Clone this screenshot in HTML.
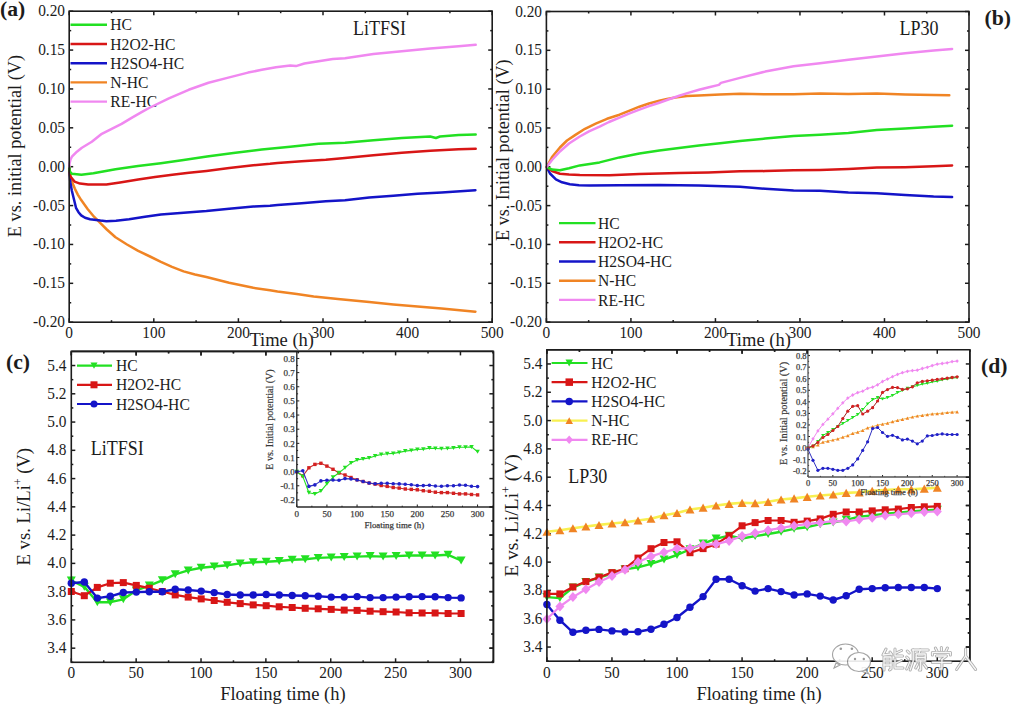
<!DOCTYPE html>
<html><head><meta charset="utf-8"><style>
html,body{margin:0;padding:0;background:#fff;}
svg{display:block;}
</style></head><body>
<svg width="1011" height="704" viewBox="0 0 1011 704" font-family="Liberation Serif">
<rect width="1011" height="704" fill="#fff"/>
<line x1="69.20" y1="322.20" x2="69.20" y2="318.20" stroke="#1c1c1c" stroke-width="1.5" />
<line x1="69.20" y1="11.20" x2="69.20" y2="15.20" stroke="#1c1c1c" stroke-width="1.5" />
<line x1="153.80" y1="322.20" x2="153.80" y2="318.20" stroke="#1c1c1c" stroke-width="1.5" />
<line x1="153.80" y1="11.20" x2="153.80" y2="15.20" stroke="#1c1c1c" stroke-width="1.5" />
<line x1="238.40" y1="322.20" x2="238.40" y2="318.20" stroke="#1c1c1c" stroke-width="1.5" />
<line x1="238.40" y1="11.20" x2="238.40" y2="15.20" stroke="#1c1c1c" stroke-width="1.5" />
<line x1="323.00" y1="322.20" x2="323.00" y2="318.20" stroke="#1c1c1c" stroke-width="1.5" />
<line x1="323.00" y1="11.20" x2="323.00" y2="15.20" stroke="#1c1c1c" stroke-width="1.5" />
<line x1="407.60" y1="322.20" x2="407.60" y2="318.20" stroke="#1c1c1c" stroke-width="1.5" />
<line x1="407.60" y1="11.20" x2="407.60" y2="15.20" stroke="#1c1c1c" stroke-width="1.5" />
<line x1="492.20" y1="322.20" x2="492.20" y2="318.20" stroke="#1c1c1c" stroke-width="1.5" />
<line x1="492.20" y1="11.20" x2="492.20" y2="15.20" stroke="#1c1c1c" stroke-width="1.5" />
<line x1="111.50" y1="322.20" x2="111.50" y2="320.20" stroke="#1c1c1c" stroke-width="1.5" />
<line x1="111.50" y1="11.20" x2="111.50" y2="13.20" stroke="#1c1c1c" stroke-width="1.5" />
<line x1="196.10" y1="322.20" x2="196.10" y2="320.20" stroke="#1c1c1c" stroke-width="1.5" />
<line x1="196.10" y1="11.20" x2="196.10" y2="13.20" stroke="#1c1c1c" stroke-width="1.5" />
<line x1="280.70" y1="322.20" x2="280.70" y2="320.20" stroke="#1c1c1c" stroke-width="1.5" />
<line x1="280.70" y1="11.20" x2="280.70" y2="13.20" stroke="#1c1c1c" stroke-width="1.5" />
<line x1="365.30" y1="322.20" x2="365.30" y2="320.20" stroke="#1c1c1c" stroke-width="1.5" />
<line x1="365.30" y1="11.20" x2="365.30" y2="13.20" stroke="#1c1c1c" stroke-width="1.5" />
<line x1="449.90" y1="322.20" x2="449.90" y2="320.20" stroke="#1c1c1c" stroke-width="1.5" />
<line x1="449.90" y1="11.20" x2="449.90" y2="13.20" stroke="#1c1c1c" stroke-width="1.5" />
<line x1="69.20" y1="322.20" x2="73.20" y2="322.20" stroke="#1c1c1c" stroke-width="1.5" />
<line x1="492.20" y1="322.20" x2="488.20" y2="322.20" stroke="#1c1c1c" stroke-width="1.5" />
<line x1="69.20" y1="283.32" x2="73.20" y2="283.32" stroke="#1c1c1c" stroke-width="1.5" />
<line x1="492.20" y1="283.32" x2="488.20" y2="283.32" stroke="#1c1c1c" stroke-width="1.5" />
<line x1="69.20" y1="244.45" x2="73.20" y2="244.45" stroke="#1c1c1c" stroke-width="1.5" />
<line x1="492.20" y1="244.45" x2="488.20" y2="244.45" stroke="#1c1c1c" stroke-width="1.5" />
<line x1="69.20" y1="205.57" x2="73.20" y2="205.57" stroke="#1c1c1c" stroke-width="1.5" />
<line x1="492.20" y1="205.57" x2="488.20" y2="205.57" stroke="#1c1c1c" stroke-width="1.5" />
<line x1="69.20" y1="166.70" x2="73.20" y2="166.70" stroke="#1c1c1c" stroke-width="1.5" />
<line x1="492.20" y1="166.70" x2="488.20" y2="166.70" stroke="#1c1c1c" stroke-width="1.5" />
<line x1="69.20" y1="127.82" x2="73.20" y2="127.82" stroke="#1c1c1c" stroke-width="1.5" />
<line x1="492.20" y1="127.82" x2="488.20" y2="127.82" stroke="#1c1c1c" stroke-width="1.5" />
<line x1="69.20" y1="88.95" x2="73.20" y2="88.95" stroke="#1c1c1c" stroke-width="1.5" />
<line x1="492.20" y1="88.95" x2="488.20" y2="88.95" stroke="#1c1c1c" stroke-width="1.5" />
<line x1="69.20" y1="50.07" x2="73.20" y2="50.07" stroke="#1c1c1c" stroke-width="1.5" />
<line x1="492.20" y1="50.07" x2="488.20" y2="50.07" stroke="#1c1c1c" stroke-width="1.5" />
<line x1="69.20" y1="11.20" x2="73.20" y2="11.20" stroke="#1c1c1c" stroke-width="1.5" />
<line x1="492.20" y1="11.20" x2="488.20" y2="11.20" stroke="#1c1c1c" stroke-width="1.5" />
<line x1="69.20" y1="302.76" x2="71.20" y2="302.76" stroke="#1c1c1c" stroke-width="1.5" />
<line x1="492.20" y1="302.76" x2="490.20" y2="302.76" stroke="#1c1c1c" stroke-width="1.5" />
<line x1="69.20" y1="263.89" x2="71.20" y2="263.89" stroke="#1c1c1c" stroke-width="1.5" />
<line x1="492.20" y1="263.89" x2="490.20" y2="263.89" stroke="#1c1c1c" stroke-width="1.5" />
<line x1="69.20" y1="225.01" x2="71.20" y2="225.01" stroke="#1c1c1c" stroke-width="1.5" />
<line x1="492.20" y1="225.01" x2="490.20" y2="225.01" stroke="#1c1c1c" stroke-width="1.5" />
<line x1="69.20" y1="186.14" x2="71.20" y2="186.14" stroke="#1c1c1c" stroke-width="1.5" />
<line x1="492.20" y1="186.14" x2="490.20" y2="186.14" stroke="#1c1c1c" stroke-width="1.5" />
<line x1="69.20" y1="147.26" x2="71.20" y2="147.26" stroke="#1c1c1c" stroke-width="1.5" />
<line x1="492.20" y1="147.26" x2="490.20" y2="147.26" stroke="#1c1c1c" stroke-width="1.5" />
<line x1="69.20" y1="108.39" x2="71.20" y2="108.39" stroke="#1c1c1c" stroke-width="1.5" />
<line x1="492.20" y1="108.39" x2="490.20" y2="108.39" stroke="#1c1c1c" stroke-width="1.5" />
<line x1="69.20" y1="69.51" x2="71.20" y2="69.51" stroke="#1c1c1c" stroke-width="1.5" />
<line x1="492.20" y1="69.51" x2="490.20" y2="69.51" stroke="#1c1c1c" stroke-width="1.5" />
<line x1="69.20" y1="30.64" x2="71.20" y2="30.64" stroke="#1c1c1c" stroke-width="1.5" />
<line x1="492.20" y1="30.64" x2="490.20" y2="30.64" stroke="#1c1c1c" stroke-width="1.5" />
<text x="0.00" y="0.00" font-size="16" text-anchor="end" font-weight="normal" fill="#1c1c1c" transform="translate(65.00 16.20) scale(0.96 1)" >0.20</text>
<text x="0.00" y="0.00" font-size="16" text-anchor="end" font-weight="normal" fill="#1c1c1c" transform="translate(65.00 55.08) scale(0.96 1)" >0.15</text>
<text x="0.00" y="0.00" font-size="16" text-anchor="end" font-weight="normal" fill="#1c1c1c" transform="translate(65.00 93.95) scale(0.96 1)" >0.10</text>
<text x="0.00" y="0.00" font-size="16" text-anchor="end" font-weight="normal" fill="#1c1c1c" transform="translate(65.00 132.82) scale(0.96 1)" >0.05</text>
<text x="0.00" y="0.00" font-size="16" text-anchor="end" font-weight="normal" fill="#1c1c1c" transform="translate(65.00 171.70) scale(0.96 1)" >0.00</text>
<text x="0.00" y="0.00" font-size="16" text-anchor="end" font-weight="normal" fill="#1c1c1c" transform="translate(65.00 210.57) scale(0.96 1)" >-0.05</text>
<text x="0.00" y="0.00" font-size="16" text-anchor="end" font-weight="normal" fill="#1c1c1c" transform="translate(65.00 249.45) scale(0.96 1)" >-0.10</text>
<text x="0.00" y="0.00" font-size="16" text-anchor="end" font-weight="normal" fill="#1c1c1c" transform="translate(65.00 288.32) scale(0.96 1)" >-0.15</text>
<text x="0.00" y="0.00" font-size="16" text-anchor="end" font-weight="normal" fill="#1c1c1c" transform="translate(65.00 327.20) scale(0.96 1)" >-0.20</text>
<text x="0.00" y="0.00" font-size="16" text-anchor="middle" font-weight="normal" fill="#1c1c1c" transform="translate(69.20 338.00) scale(0.96 1)" >0</text>
<text x="0.00" y="0.00" font-size="16" text-anchor="middle" font-weight="normal" fill="#1c1c1c" transform="translate(153.80 338.00) scale(0.96 1)" >100</text>
<text x="0.00" y="0.00" font-size="16" text-anchor="middle" font-weight="normal" fill="#1c1c1c" transform="translate(238.40 338.00) scale(0.96 1)" >200</text>
<text x="0.00" y="0.00" font-size="16" text-anchor="middle" font-weight="normal" fill="#1c1c1c" transform="translate(323.00 338.00) scale(0.96 1)" >300</text>
<text x="0.00" y="0.00" font-size="16" text-anchor="middle" font-weight="normal" fill="#1c1c1c" transform="translate(407.60 338.00) scale(0.96 1)" >400</text>
<text x="0.00" y="0.00" font-size="16" text-anchor="middle" font-weight="normal" fill="#1c1c1c" transform="translate(492.20 338.00) scale(0.96 1)" >500</text>
<text x="0.00" y="0.00" font-size="18.3" text-anchor="middle" font-weight="normal" fill="#1c1c1c" transform="translate(21.20 146.00) rotate(-90)" >E vs. initial potential (V)</text>
<text x="0.00" y="0.00" font-size="19.5" text-anchor="middle" font-weight="normal" fill="#1c1c1c" transform="translate(281.70 346.10) scale(0.95 1)" >Time (h)</text>
<text x="0.00" y="15.50" font-size="21.7" text-anchor="start" font-weight="bold" fill="#1c1c1c" >(a)</text>
<text x="0.00" y="0.00" font-size="20" text-anchor="middle" font-weight="normal" fill="#1c1c1c" transform="translate(379.40 35.30) scale(0.9 1)" >LiTFSI</text>
<line x1="70.50" y1="24.80" x2="107.00" y2="24.80" stroke="#22e022" stroke-width="2.4" />
<text x="0.00" y="0.00" font-size="16.5" text-anchor="start" font-weight="normal" fill="#1c1c1c" transform="translate(110.30 30.40) scale(0.948 1)" >HC</text>
<line x1="70.50" y1="44.00" x2="107.00" y2="44.00" stroke="#d81616" stroke-width="2.4" />
<text x="0.00" y="0.00" font-size="16.5" text-anchor="start" font-weight="normal" fill="#1c1c1c" transform="translate(110.30 49.60) scale(0.948 1)" >H2O2-HC</text>
<line x1="70.50" y1="63.20" x2="107.00" y2="63.20" stroke="#1414c8" stroke-width="2.4" />
<text x="0.00" y="0.00" font-size="16.5" text-anchor="start" font-weight="normal" fill="#1c1c1c" transform="translate(110.30 68.80) scale(0.948 1)" >H2SO4-HC</text>
<line x1="70.50" y1="82.40" x2="107.00" y2="82.40" stroke="#f08424" stroke-width="2.4" />
<text x="0.00" y="0.00" font-size="16.5" text-anchor="start" font-weight="normal" fill="#1c1c1c" transform="translate(110.30 88.00) scale(0.948 1)" >N-HC</text>
<line x1="70.50" y1="101.60" x2="107.00" y2="101.60" stroke="#f088f0" stroke-width="2.4" />
<text x="0.00" y="0.00" font-size="16.5" text-anchor="start" font-weight="normal" fill="#1c1c1c" transform="translate(110.30 107.20) scale(0.948 1)" >RE-HC</text>
<polyline points="69.3,166.7 70.0,172.0 71.0,178.4 72.8,183.8 74.8,188.6 77.8,194.6 81.2,200.1 87.6,209.0 94.0,216.7 100.4,223.1 106.8,229.5 115.5,237.3 127.0,244.5 138.2,250.9 150.0,256.5 160.9,261.8 172.0,266.8 183.6,271.4 195.0,274.5 206.4,277.0 229.1,282.7 253.3,287.8 270.0,290.2 277.5,291.6 296.8,294.1 313.7,296.5 337.9,299.0 369.2,302.0 393.3,304.4 417.5,306.4 441.6,308.6 475.4,311.7" fill="none" stroke="#f08424" stroke-width="2.5" stroke-linejoin="round" stroke-linecap="round" />
<polyline points="69.3,166.7 69.8,176.0 70.3,182.2 71.8,190.5 73.5,197.5 76.0,207.8 78.5,212.2 81.2,215.4 85.0,217.8 90.1,219.3 100.4,220.6 106.4,221.2 116.0,220.8 129.1,219.3 145.0,216.8 160.9,214.5 183.6,212.8 206.4,211.1 229.2,208.8 253.3,206.6 270.0,205.8 277.5,205.0 301.6,203.3 325.8,201.3 345.0,200.2 369.2,197.6 393.3,195.7 417.5,193.7 441.6,192.4 475.4,190.2" fill="none" stroke="#1414c8" stroke-width="2.5" stroke-linejoin="round" stroke-linecap="round" />
<polyline points="69.3,166.7 70.0,175.9 74.5,181.6 80.0,183.6 88.2,184.6 106.4,184.6 120.0,182.5 138.2,179.5 155.0,177.0 172.3,174.8 189.0,172.8 206.4,170.9 229.2,168.0 253.3,165.3 270.0,163.8 277.5,162.9 301.6,161.2 325.8,159.7 345.0,158.0 373.4,155.3 401.8,152.7 430.2,150.7 458.6,149.3 475.7,148.8" fill="none" stroke="#d81616" stroke-width="2.5" stroke-linejoin="round" stroke-linecap="round" />
<polyline points="69.3,166.7 69.8,171.5 72.0,173.8 81.4,174.8 93.4,173.3 115.5,169.3 138.0,166.0 160.9,163.2 183.6,160.0 207.0,156.5 233.4,152.9 261.8,149.5 290.2,146.7 318.6,143.8 345.0,142.8 373.4,140.2 401.8,138.0 430.2,136.5 435.9,138.0 440.0,136.5 458.6,135.1 475.7,134.5" fill="none" stroke="#22e022" stroke-width="2.5" stroke-linejoin="round" stroke-linecap="round" />
<polyline points="69.3,166.7 69.5,163.6 70.5,159.5 71.9,156.7 76.9,151.7 81.9,147.7 91.8,141.8 101.8,133.8 111.7,128.8 121.6,123.9 131.6,117.9 142.0,111.9 149.1,108.0 168.9,98.4 188.7,89.8 208.5,82.7 228.3,77.6 248.0,72.6 261.8,69.8 276.0,67.2 290.2,65.4 295.9,66.1 304.4,63.5 318.6,61.3 332.8,59.0 345.0,58.2 373.4,54.1 401.8,51.3 430.2,48.5 458.6,46.2 475.7,44.8" fill="none" stroke="#f088f0" stroke-width="2.5" stroke-linejoin="round" stroke-linecap="round" />
<rect x="69.20" y="11.20" width="423.00" height="311.00" fill="none" stroke="#1c1c1c" stroke-width="1.6"/>
<line x1="546.40" y1="322.10" x2="546.40" y2="318.10" stroke="#1c1c1c" stroke-width="1.5" />
<line x1="546.40" y1="11.50" x2="546.40" y2="15.50" stroke="#1c1c1c" stroke-width="1.5" />
<line x1="630.92" y1="322.10" x2="630.92" y2="318.10" stroke="#1c1c1c" stroke-width="1.5" />
<line x1="630.92" y1="11.50" x2="630.92" y2="15.50" stroke="#1c1c1c" stroke-width="1.5" />
<line x1="715.44" y1="322.10" x2="715.44" y2="318.10" stroke="#1c1c1c" stroke-width="1.5" />
<line x1="715.44" y1="11.50" x2="715.44" y2="15.50" stroke="#1c1c1c" stroke-width="1.5" />
<line x1="799.96" y1="322.10" x2="799.96" y2="318.10" stroke="#1c1c1c" stroke-width="1.5" />
<line x1="799.96" y1="11.50" x2="799.96" y2="15.50" stroke="#1c1c1c" stroke-width="1.5" />
<line x1="884.48" y1="322.10" x2="884.48" y2="318.10" stroke="#1c1c1c" stroke-width="1.5" />
<line x1="884.48" y1="11.50" x2="884.48" y2="15.50" stroke="#1c1c1c" stroke-width="1.5" />
<line x1="969.00" y1="322.10" x2="969.00" y2="318.10" stroke="#1c1c1c" stroke-width="1.5" />
<line x1="969.00" y1="11.50" x2="969.00" y2="15.50" stroke="#1c1c1c" stroke-width="1.5" />
<line x1="588.66" y1="322.10" x2="588.66" y2="320.10" stroke="#1c1c1c" stroke-width="1.5" />
<line x1="588.66" y1="11.50" x2="588.66" y2="13.50" stroke="#1c1c1c" stroke-width="1.5" />
<line x1="673.18" y1="322.10" x2="673.18" y2="320.10" stroke="#1c1c1c" stroke-width="1.5" />
<line x1="673.18" y1="11.50" x2="673.18" y2="13.50" stroke="#1c1c1c" stroke-width="1.5" />
<line x1="757.70" y1="322.10" x2="757.70" y2="320.10" stroke="#1c1c1c" stroke-width="1.5" />
<line x1="757.70" y1="11.50" x2="757.70" y2="13.50" stroke="#1c1c1c" stroke-width="1.5" />
<line x1="842.22" y1="322.10" x2="842.22" y2="320.10" stroke="#1c1c1c" stroke-width="1.5" />
<line x1="842.22" y1="11.50" x2="842.22" y2="13.50" stroke="#1c1c1c" stroke-width="1.5" />
<line x1="926.74" y1="322.10" x2="926.74" y2="320.10" stroke="#1c1c1c" stroke-width="1.5" />
<line x1="926.74" y1="11.50" x2="926.74" y2="13.50" stroke="#1c1c1c" stroke-width="1.5" />
<line x1="546.40" y1="322.10" x2="550.40" y2="322.10" stroke="#1c1c1c" stroke-width="1.5" />
<line x1="969.00" y1="322.10" x2="965.00" y2="322.10" stroke="#1c1c1c" stroke-width="1.5" />
<line x1="546.40" y1="283.28" x2="550.40" y2="283.28" stroke="#1c1c1c" stroke-width="1.5" />
<line x1="969.00" y1="283.28" x2="965.00" y2="283.28" stroke="#1c1c1c" stroke-width="1.5" />
<line x1="546.40" y1="244.45" x2="550.40" y2="244.45" stroke="#1c1c1c" stroke-width="1.5" />
<line x1="969.00" y1="244.45" x2="965.00" y2="244.45" stroke="#1c1c1c" stroke-width="1.5" />
<line x1="546.40" y1="205.62" x2="550.40" y2="205.62" stroke="#1c1c1c" stroke-width="1.5" />
<line x1="969.00" y1="205.62" x2="965.00" y2="205.62" stroke="#1c1c1c" stroke-width="1.5" />
<line x1="546.40" y1="166.80" x2="550.40" y2="166.80" stroke="#1c1c1c" stroke-width="1.5" />
<line x1="969.00" y1="166.80" x2="965.00" y2="166.80" stroke="#1c1c1c" stroke-width="1.5" />
<line x1="546.40" y1="127.98" x2="550.40" y2="127.98" stroke="#1c1c1c" stroke-width="1.5" />
<line x1="969.00" y1="127.98" x2="965.00" y2="127.98" stroke="#1c1c1c" stroke-width="1.5" />
<line x1="546.40" y1="89.15" x2="550.40" y2="89.15" stroke="#1c1c1c" stroke-width="1.5" />
<line x1="969.00" y1="89.15" x2="965.00" y2="89.15" stroke="#1c1c1c" stroke-width="1.5" />
<line x1="546.40" y1="50.32" x2="550.40" y2="50.32" stroke="#1c1c1c" stroke-width="1.5" />
<line x1="969.00" y1="50.32" x2="965.00" y2="50.32" stroke="#1c1c1c" stroke-width="1.5" />
<line x1="546.40" y1="11.50" x2="550.40" y2="11.50" stroke="#1c1c1c" stroke-width="1.5" />
<line x1="969.00" y1="11.50" x2="965.00" y2="11.50" stroke="#1c1c1c" stroke-width="1.5" />
<line x1="546.40" y1="302.69" x2="548.40" y2="302.69" stroke="#1c1c1c" stroke-width="1.5" />
<line x1="969.00" y1="302.69" x2="967.00" y2="302.69" stroke="#1c1c1c" stroke-width="1.5" />
<line x1="546.40" y1="263.86" x2="548.40" y2="263.86" stroke="#1c1c1c" stroke-width="1.5" />
<line x1="969.00" y1="263.86" x2="967.00" y2="263.86" stroke="#1c1c1c" stroke-width="1.5" />
<line x1="546.40" y1="225.04" x2="548.40" y2="225.04" stroke="#1c1c1c" stroke-width="1.5" />
<line x1="969.00" y1="225.04" x2="967.00" y2="225.04" stroke="#1c1c1c" stroke-width="1.5" />
<line x1="546.40" y1="186.21" x2="548.40" y2="186.21" stroke="#1c1c1c" stroke-width="1.5" />
<line x1="969.00" y1="186.21" x2="967.00" y2="186.21" stroke="#1c1c1c" stroke-width="1.5" />
<line x1="546.40" y1="147.39" x2="548.40" y2="147.39" stroke="#1c1c1c" stroke-width="1.5" />
<line x1="969.00" y1="147.39" x2="967.00" y2="147.39" stroke="#1c1c1c" stroke-width="1.5" />
<line x1="546.40" y1="108.56" x2="548.40" y2="108.56" stroke="#1c1c1c" stroke-width="1.5" />
<line x1="969.00" y1="108.56" x2="967.00" y2="108.56" stroke="#1c1c1c" stroke-width="1.5" />
<line x1="546.40" y1="69.74" x2="548.40" y2="69.74" stroke="#1c1c1c" stroke-width="1.5" />
<line x1="969.00" y1="69.74" x2="967.00" y2="69.74" stroke="#1c1c1c" stroke-width="1.5" />
<line x1="546.40" y1="30.91" x2="548.40" y2="30.91" stroke="#1c1c1c" stroke-width="1.5" />
<line x1="969.00" y1="30.91" x2="967.00" y2="30.91" stroke="#1c1c1c" stroke-width="1.5" />
<text x="0.00" y="0.00" font-size="16" text-anchor="end" font-weight="normal" fill="#1c1c1c" transform="translate(542.00 16.50) scale(0.96 1)" >0.20</text>
<text x="0.00" y="0.00" font-size="16" text-anchor="end" font-weight="normal" fill="#1c1c1c" transform="translate(542.00 55.33) scale(0.96 1)" >0.15</text>
<text x="0.00" y="0.00" font-size="16" text-anchor="end" font-weight="normal" fill="#1c1c1c" transform="translate(542.00 94.15) scale(0.96 1)" >0.10</text>
<text x="0.00" y="0.00" font-size="16" text-anchor="end" font-weight="normal" fill="#1c1c1c" transform="translate(542.00 132.98) scale(0.96 1)" >0.05</text>
<text x="0.00" y="0.00" font-size="16" text-anchor="end" font-weight="normal" fill="#1c1c1c" transform="translate(542.00 171.80) scale(0.96 1)" >0.00</text>
<text x="0.00" y="0.00" font-size="16" text-anchor="end" font-weight="normal" fill="#1c1c1c" transform="translate(542.00 210.62) scale(0.96 1)" >-0.05</text>
<text x="0.00" y="0.00" font-size="16" text-anchor="end" font-weight="normal" fill="#1c1c1c" transform="translate(542.00 249.45) scale(0.96 1)" >-0.10</text>
<text x="0.00" y="0.00" font-size="16" text-anchor="end" font-weight="normal" fill="#1c1c1c" transform="translate(542.00 288.28) scale(0.96 1)" >-0.15</text>
<text x="0.00" y="0.00" font-size="16" text-anchor="end" font-weight="normal" fill="#1c1c1c" transform="translate(542.00 327.10) scale(0.96 1)" >-0.20</text>
<text x="0.00" y="0.00" font-size="16" text-anchor="middle" font-weight="normal" fill="#1c1c1c" transform="translate(546.40 338.00) scale(0.96 1)" >0</text>
<text x="0.00" y="0.00" font-size="16" text-anchor="middle" font-weight="normal" fill="#1c1c1c" transform="translate(630.92 338.00) scale(0.96 1)" >100</text>
<text x="0.00" y="0.00" font-size="16" text-anchor="middle" font-weight="normal" fill="#1c1c1c" transform="translate(715.44 338.00) scale(0.96 1)" >200</text>
<text x="0.00" y="0.00" font-size="16" text-anchor="middle" font-weight="normal" fill="#1c1c1c" transform="translate(799.96 338.00) scale(0.96 1)" >300</text>
<text x="0.00" y="0.00" font-size="16" text-anchor="middle" font-weight="normal" fill="#1c1c1c" transform="translate(884.48 338.00) scale(0.96 1)" >400</text>
<text x="0.00" y="0.00" font-size="16" text-anchor="middle" font-weight="normal" fill="#1c1c1c" transform="translate(969.00 338.00) scale(0.96 1)" >500</text>
<text x="0.00" y="0.00" font-size="18.1" text-anchor="middle" font-weight="normal" fill="#1c1c1c" transform="translate(508.50 150.20) rotate(-90)" >E vs. Initial potential (V)</text>
<text x="0.00" y="0.00" font-size="19.5" text-anchor="middle" font-weight="normal" fill="#1c1c1c" transform="translate(758.50 346.10) scale(0.95 1)" >Time (h)</text>
<text x="984.50" y="25.30" font-size="21.7" text-anchor="start" font-weight="bold" fill="#1c1c1c" >(b)</text>
<text x="0.00" y="0.00" font-size="20" text-anchor="middle" font-weight="normal" fill="#1c1c1c" transform="translate(918.90 34.80) scale(0.9 1)" >LP30</text>
<polyline points="546.6,167.0 550.0,173.5 555.9,179.3 562.0,182.3 569.8,184.3 579.0,185.3 589.7,185.6 619.5,185.3 659.3,184.9 699.0,185.6 740.0,186.8 765.2,188.8 793.6,190.5 820.0,190.8 848.4,192.5 876.8,193.3 905.2,195.1 933.6,196.6 952.1,197.0" fill="none" stroke="#1414c8" stroke-width="2.5" stroke-linejoin="round" stroke-linecap="round" />
<polyline points="546.6,167.0 552.0,171.0 559.9,173.7 569.0,174.5 579.8,174.9 609.6,175.3 639.4,173.9 679.2,172.9 708.4,172.4 740.0,171.3 765.2,171.1 793.6,170.3 820.0,170.0 848.4,169.1 876.8,167.6 905.2,167.2 933.6,166.3 952.1,165.5" fill="none" stroke="#d81616" stroke-width="2.5" stroke-linejoin="round" stroke-linecap="round" />
<polyline points="546.6,167.0 552.0,169.6 559.9,170.3 569.0,168.2 579.8,165.4 599.6,162.4 619.5,157.4 639.4,153.4 659.3,150.5 679.0,148.0 699.0,145.5 720.0,143.2 740.0,141.1 765.2,138.6 793.6,135.9 820.0,134.8 848.4,133.1 876.8,130.0 905.2,128.5 933.6,126.8 952.1,125.7" fill="none" stroke="#22e022" stroke-width="2.5" stroke-linejoin="round" stroke-linecap="round" />
<polyline points="546.6,167.0 552.0,157.0 559.9,147.5 567.0,140.5 575.8,134.6 585.0,128.8 595.7,123.6 607.0,118.8 619.5,114.7 629.0,110.8 639.4,106.7 649.0,103.5 659.3,100.8 667.0,98.9 675.2,97.4 687.0,96.1 699.0,95.4 720.0,94.5 740.0,93.8 765.2,94.2 793.6,94.2 820.0,93.5 848.4,93.9 876.8,93.5 905.2,94.4 933.6,95.0 949.3,95.3" fill="none" stroke="#f08424" stroke-width="2.5" stroke-linejoin="round" stroke-linecap="round" />
<polyline points="546.6,167.0 552.0,160.0 559.9,151.5 569.0,143.5 579.8,136.5 589.0,131.3 599.6,126.6 609.0,122.0 619.5,117.7 629.0,113.6 639.4,109.7 649.0,106.2 659.3,102.7 669.0,99.2 679.2,95.8 689.0,92.6 699.0,89.8 709.0,87.2 718.9,84.9 720.9,82.9 740.0,77.9 765.2,71.6 793.6,66.3 820.0,63.3 848.4,59.8 876.8,56.4 905.2,53.2 933.6,50.4 952.1,49.0" fill="none" stroke="#f088f0" stroke-width="2.5" stroke-linejoin="round" stroke-linecap="round" />
<line x1="559.00" y1="223.10" x2="595.50" y2="223.10" stroke="#22e022" stroke-width="2.4" />
<text x="0.00" y="0.00" font-size="16.5" text-anchor="start" font-weight="normal" fill="#1c1c1c" transform="translate(598.00 228.70) scale(0.948 1)" >HC</text>
<line x1="559.00" y1="242.30" x2="595.50" y2="242.30" stroke="#d81616" stroke-width="2.4" />
<text x="0.00" y="0.00" font-size="16.5" text-anchor="start" font-weight="normal" fill="#1c1c1c" transform="translate(598.00 247.90) scale(0.948 1)" >H2O2-HC</text>
<line x1="559.00" y1="261.50" x2="595.50" y2="261.50" stroke="#1414c8" stroke-width="2.4" />
<text x="0.00" y="0.00" font-size="16.5" text-anchor="start" font-weight="normal" fill="#1c1c1c" transform="translate(598.00 267.10) scale(0.948 1)" >H2SO4-HC</text>
<line x1="559.00" y1="280.70" x2="595.50" y2="280.70" stroke="#f08424" stroke-width="2.4" />
<text x="0.00" y="0.00" font-size="16.5" text-anchor="start" font-weight="normal" fill="#1c1c1c" transform="translate(598.00 286.30) scale(0.948 1)" >N-HC</text>
<line x1="559.00" y1="299.90" x2="595.50" y2="299.90" stroke="#f088f0" stroke-width="2.4" />
<text x="0.00" y="0.00" font-size="16.5" text-anchor="start" font-weight="normal" fill="#1c1c1c" transform="translate(598.00 305.50) scale(0.948 1)" >RE-HC</text>
<rect x="546.40" y="11.50" width="422.60" height="310.60" fill="none" stroke="#1c1c1c" stroke-width="1.6"/>
<line x1="71.30" y1="662.30" x2="71.30" y2="658.30" stroke="#1c1c1c" stroke-width="1.5" />
<line x1="71.30" y1="351.40" x2="71.30" y2="355.40" stroke="#1c1c1c" stroke-width="1.5" />
<line x1="136.16" y1="662.30" x2="136.16" y2="658.30" stroke="#1c1c1c" stroke-width="1.5" />
<line x1="136.16" y1="351.40" x2="136.16" y2="355.40" stroke="#1c1c1c" stroke-width="1.5" />
<line x1="201.02" y1="662.30" x2="201.02" y2="658.30" stroke="#1c1c1c" stroke-width="1.5" />
<line x1="201.02" y1="351.40" x2="201.02" y2="355.40" stroke="#1c1c1c" stroke-width="1.5" />
<line x1="265.88" y1="662.30" x2="265.88" y2="658.30" stroke="#1c1c1c" stroke-width="1.5" />
<line x1="265.88" y1="351.40" x2="265.88" y2="355.40" stroke="#1c1c1c" stroke-width="1.5" />
<line x1="330.73" y1="662.30" x2="330.73" y2="658.30" stroke="#1c1c1c" stroke-width="1.5" />
<line x1="330.73" y1="351.40" x2="330.73" y2="355.40" stroke="#1c1c1c" stroke-width="1.5" />
<line x1="395.59" y1="662.30" x2="395.59" y2="658.30" stroke="#1c1c1c" stroke-width="1.5" />
<line x1="395.59" y1="351.40" x2="395.59" y2="355.40" stroke="#1c1c1c" stroke-width="1.5" />
<line x1="460.45" y1="662.30" x2="460.45" y2="658.30" stroke="#1c1c1c" stroke-width="1.5" />
<line x1="460.45" y1="351.40" x2="460.45" y2="355.40" stroke="#1c1c1c" stroke-width="1.5" />
<line x1="103.73" y1="662.30" x2="103.73" y2="660.30" stroke="#1c1c1c" stroke-width="1.5" />
<line x1="103.73" y1="351.40" x2="103.73" y2="353.40" stroke="#1c1c1c" stroke-width="1.5" />
<line x1="168.59" y1="662.30" x2="168.59" y2="660.30" stroke="#1c1c1c" stroke-width="1.5" />
<line x1="168.59" y1="351.40" x2="168.59" y2="353.40" stroke="#1c1c1c" stroke-width="1.5" />
<line x1="233.45" y1="662.30" x2="233.45" y2="660.30" stroke="#1c1c1c" stroke-width="1.5" />
<line x1="233.45" y1="351.40" x2="233.45" y2="353.40" stroke="#1c1c1c" stroke-width="1.5" />
<line x1="298.31" y1="662.30" x2="298.31" y2="660.30" stroke="#1c1c1c" stroke-width="1.5" />
<line x1="298.31" y1="351.40" x2="298.31" y2="353.40" stroke="#1c1c1c" stroke-width="1.5" />
<line x1="363.16" y1="662.30" x2="363.16" y2="660.30" stroke="#1c1c1c" stroke-width="1.5" />
<line x1="363.16" y1="351.40" x2="363.16" y2="353.40" stroke="#1c1c1c" stroke-width="1.5" />
<line x1="428.02" y1="662.30" x2="428.02" y2="660.30" stroke="#1c1c1c" stroke-width="1.5" />
<line x1="428.02" y1="351.40" x2="428.02" y2="353.40" stroke="#1c1c1c" stroke-width="1.5" />
<line x1="492.88" y1="662.30" x2="492.88" y2="660.30" stroke="#1c1c1c" stroke-width="1.5" />
<line x1="492.88" y1="351.40" x2="492.88" y2="353.40" stroke="#1c1c1c" stroke-width="1.5" />
<line x1="71.30" y1="648.17" x2="75.30" y2="648.17" stroke="#1c1c1c" stroke-width="1.5" />
<line x1="493.40" y1="648.17" x2="489.40" y2="648.17" stroke="#1c1c1c" stroke-width="1.5" />
<line x1="71.30" y1="619.90" x2="75.30" y2="619.90" stroke="#1c1c1c" stroke-width="1.5" />
<line x1="493.40" y1="619.90" x2="489.40" y2="619.90" stroke="#1c1c1c" stroke-width="1.5" />
<line x1="71.30" y1="591.64" x2="75.30" y2="591.64" stroke="#1c1c1c" stroke-width="1.5" />
<line x1="493.40" y1="591.64" x2="489.40" y2="591.64" stroke="#1c1c1c" stroke-width="1.5" />
<line x1="71.30" y1="563.38" x2="75.30" y2="563.38" stroke="#1c1c1c" stroke-width="1.5" />
<line x1="493.40" y1="563.38" x2="489.40" y2="563.38" stroke="#1c1c1c" stroke-width="1.5" />
<line x1="71.30" y1="535.11" x2="75.30" y2="535.11" stroke="#1c1c1c" stroke-width="1.5" />
<line x1="493.40" y1="535.11" x2="489.40" y2="535.11" stroke="#1c1c1c" stroke-width="1.5" />
<line x1="71.30" y1="506.85" x2="75.30" y2="506.85" stroke="#1c1c1c" stroke-width="1.5" />
<line x1="493.40" y1="506.85" x2="489.40" y2="506.85" stroke="#1c1c1c" stroke-width="1.5" />
<line x1="71.30" y1="478.59" x2="75.30" y2="478.59" stroke="#1c1c1c" stroke-width="1.5" />
<line x1="493.40" y1="478.59" x2="489.40" y2="478.59" stroke="#1c1c1c" stroke-width="1.5" />
<line x1="71.30" y1="450.32" x2="75.30" y2="450.32" stroke="#1c1c1c" stroke-width="1.5" />
<line x1="493.40" y1="450.32" x2="489.40" y2="450.32" stroke="#1c1c1c" stroke-width="1.5" />
<line x1="71.30" y1="422.06" x2="75.30" y2="422.06" stroke="#1c1c1c" stroke-width="1.5" />
<line x1="493.40" y1="422.06" x2="489.40" y2="422.06" stroke="#1c1c1c" stroke-width="1.5" />
<line x1="71.30" y1="393.80" x2="75.30" y2="393.80" stroke="#1c1c1c" stroke-width="1.5" />
<line x1="493.40" y1="393.80" x2="489.40" y2="393.80" stroke="#1c1c1c" stroke-width="1.5" />
<line x1="71.30" y1="365.53" x2="75.30" y2="365.53" stroke="#1c1c1c" stroke-width="1.5" />
<line x1="493.40" y1="365.53" x2="489.40" y2="365.53" stroke="#1c1c1c" stroke-width="1.5" />
<line x1="71.30" y1="662.30" x2="73.30" y2="662.30" stroke="#1c1c1c" stroke-width="1.5" />
<line x1="493.40" y1="662.30" x2="491.40" y2="662.30" stroke="#1c1c1c" stroke-width="1.5" />
<line x1="71.30" y1="634.04" x2="73.30" y2="634.04" stroke="#1c1c1c" stroke-width="1.5" />
<line x1="493.40" y1="634.04" x2="491.40" y2="634.04" stroke="#1c1c1c" stroke-width="1.5" />
<line x1="71.30" y1="605.77" x2="73.30" y2="605.77" stroke="#1c1c1c" stroke-width="1.5" />
<line x1="493.40" y1="605.77" x2="491.40" y2="605.77" stroke="#1c1c1c" stroke-width="1.5" />
<line x1="71.30" y1="577.51" x2="73.30" y2="577.51" stroke="#1c1c1c" stroke-width="1.5" />
<line x1="493.40" y1="577.51" x2="491.40" y2="577.51" stroke="#1c1c1c" stroke-width="1.5" />
<line x1="71.30" y1="549.25" x2="73.30" y2="549.25" stroke="#1c1c1c" stroke-width="1.5" />
<line x1="493.40" y1="549.25" x2="491.40" y2="549.25" stroke="#1c1c1c" stroke-width="1.5" />
<line x1="71.30" y1="520.98" x2="73.30" y2="520.98" stroke="#1c1c1c" stroke-width="1.5" />
<line x1="493.40" y1="520.98" x2="491.40" y2="520.98" stroke="#1c1c1c" stroke-width="1.5" />
<line x1="71.30" y1="492.72" x2="73.30" y2="492.72" stroke="#1c1c1c" stroke-width="1.5" />
<line x1="493.40" y1="492.72" x2="491.40" y2="492.72" stroke="#1c1c1c" stroke-width="1.5" />
<line x1="71.30" y1="464.45" x2="73.30" y2="464.45" stroke="#1c1c1c" stroke-width="1.5" />
<line x1="493.40" y1="464.45" x2="491.40" y2="464.45" stroke="#1c1c1c" stroke-width="1.5" />
<line x1="71.30" y1="436.19" x2="73.30" y2="436.19" stroke="#1c1c1c" stroke-width="1.5" />
<line x1="493.40" y1="436.19" x2="491.40" y2="436.19" stroke="#1c1c1c" stroke-width="1.5" />
<line x1="71.30" y1="407.93" x2="73.30" y2="407.93" stroke="#1c1c1c" stroke-width="1.5" />
<line x1="493.40" y1="407.93" x2="491.40" y2="407.93" stroke="#1c1c1c" stroke-width="1.5" />
<line x1="71.30" y1="379.66" x2="73.30" y2="379.66" stroke="#1c1c1c" stroke-width="1.5" />
<line x1="493.40" y1="379.66" x2="491.40" y2="379.66" stroke="#1c1c1c" stroke-width="1.5" />
<text x="0.00" y="0.00" font-size="16" text-anchor="end" font-weight="normal" fill="#1c1c1c" transform="translate(66.50 653.17) scale(0.96 1)" >3.4</text>
<text x="0.00" y="0.00" font-size="16" text-anchor="end" font-weight="normal" fill="#1c1c1c" transform="translate(66.50 624.90) scale(0.96 1)" >3.6</text>
<text x="0.00" y="0.00" font-size="16" text-anchor="end" font-weight="normal" fill="#1c1c1c" transform="translate(66.50 596.64) scale(0.96 1)" >3.8</text>
<text x="0.00" y="0.00" font-size="16" text-anchor="end" font-weight="normal" fill="#1c1c1c" transform="translate(66.50 568.38) scale(0.96 1)" >4.0</text>
<text x="0.00" y="0.00" font-size="16" text-anchor="end" font-weight="normal" fill="#1c1c1c" transform="translate(66.50 540.11) scale(0.96 1)" >4.2</text>
<text x="0.00" y="0.00" font-size="16" text-anchor="end" font-weight="normal" fill="#1c1c1c" transform="translate(66.50 511.85) scale(0.96 1)" >4.4</text>
<text x="0.00" y="0.00" font-size="16" text-anchor="end" font-weight="normal" fill="#1c1c1c" transform="translate(66.50 483.59) scale(0.96 1)" >4.6</text>
<text x="0.00" y="0.00" font-size="16" text-anchor="end" font-weight="normal" fill="#1c1c1c" transform="translate(66.50 455.32) scale(0.96 1)" >4.8</text>
<text x="0.00" y="0.00" font-size="16" text-anchor="end" font-weight="normal" fill="#1c1c1c" transform="translate(66.50 427.06) scale(0.96 1)" >5.0</text>
<text x="0.00" y="0.00" font-size="16" text-anchor="end" font-weight="normal" fill="#1c1c1c" transform="translate(66.50 398.80) scale(0.96 1)" >5.2</text>
<text x="0.00" y="0.00" font-size="16" text-anchor="end" font-weight="normal" fill="#1c1c1c" transform="translate(66.50 370.53) scale(0.96 1)" >5.4</text>
<text x="0.00" y="0.00" font-size="16" text-anchor="middle" font-weight="normal" fill="#1c1c1c" transform="translate(71.30 678.00) scale(0.96 1)" >0</text>
<text x="0.00" y="0.00" font-size="16" text-anchor="middle" font-weight="normal" fill="#1c1c1c" transform="translate(136.16 678.00) scale(0.96 1)" >50</text>
<text x="0.00" y="0.00" font-size="16" text-anchor="middle" font-weight="normal" fill="#1c1c1c" transform="translate(201.02 678.00) scale(0.96 1)" >100</text>
<text x="0.00" y="0.00" font-size="16" text-anchor="middle" font-weight="normal" fill="#1c1c1c" transform="translate(265.88 678.00) scale(0.96 1)" >150</text>
<text x="0.00" y="0.00" font-size="16" text-anchor="middle" font-weight="normal" fill="#1c1c1c" transform="translate(330.73 678.00) scale(0.96 1)" >200</text>
<text x="0.00" y="0.00" font-size="16" text-anchor="middle" font-weight="normal" fill="#1c1c1c" transform="translate(395.59 678.00) scale(0.96 1)" >250</text>
<text x="0.00" y="0.00" font-size="16" text-anchor="middle" font-weight="normal" fill="#1c1c1c" transform="translate(460.45 678.00) scale(0.96 1)" >300</text>
<text x="282.88" y="699.60" font-size="18.5" text-anchor="middle" font-weight="normal" fill="#1c1c1c" >Floating time (h)</text>
<text x="0.00" y="0.00" font-size="18.7" text-anchor="middle" font-weight="normal" fill="#1c1c1c" transform="translate(29.80 506.70) rotate(-90)" >E vs. Li/Li<tspan dy="-7.5" font-size="11.5">+</tspan><tspan dy="7.5"> (V)</tspan></text>
<text x="6.00" y="368.60" font-size="21.7" text-anchor="start" font-weight="bold" fill="#1c1c1c" >(c)</text>
<text x="0.00" y="0.00" font-size="20" text-anchor="middle" font-weight="normal" fill="#1c1c1c" transform="translate(117.20 454.90) scale(0.9 1)" >LiTFSI</text>
<polyline points="71.3,580.5 84.3,586.8 97.3,602.2 110.3,602.2 123.3,599.3 136.3,590.4 149.3,585.6 162.3,580.3 175.2,574.3 188.2,570.4 201.2,567.8 214.2,566.5 227.2,565.2 240.2,563.4 253.2,562.3 266.2,561.8 279.2,561.0 292.2,559.7 305.2,559.2 318.2,557.9 331.2,557.4 344.2,557.1 357.1,556.6 370.1,556.1 383.1,556.6 396.1,556.1 409.1,555.5 422.1,555.5 435.1,555.5 448.1,554.8 461.1,560.5" fill="none" stroke="#22e022" stroke-width="2.4" stroke-linejoin="round" stroke-linecap="round" />
<path d="M66.8,576.5L75.8,576.5L71.3,584.5Z" fill="#22e022"/>
<path d="M79.8,582.8L88.8,582.8L84.3,590.8Z" fill="#22e022"/>
<path d="M92.8,598.2L101.8,598.2L97.3,606.2Z" fill="#22e022"/>
<path d="M105.8,598.2L114.8,598.2L110.3,606.2Z" fill="#22e022"/>
<path d="M118.8,595.2L127.8,595.2L123.3,603.3Z" fill="#22e022"/>
<path d="M131.8,586.4L140.8,586.4L136.3,594.4Z" fill="#22e022"/>
<path d="M144.8,581.6L153.8,581.6L149.3,589.6Z" fill="#22e022"/>
<path d="M157.8,576.2L166.8,576.2L162.3,584.3Z" fill="#22e022"/>
<path d="M170.7,570.2L179.7,570.2L175.2,578.3Z" fill="#22e022"/>
<path d="M183.7,566.4L192.7,566.4L188.2,574.4Z" fill="#22e022"/>
<path d="M196.7,563.8L205.7,563.8L201.2,571.8Z" fill="#22e022"/>
<path d="M209.7,562.5L218.7,562.5L214.2,570.5Z" fill="#22e022"/>
<path d="M222.7,561.2L231.7,561.2L227.2,569.2Z" fill="#22e022"/>
<path d="M235.7,559.4L244.7,559.4L240.2,567.4Z" fill="#22e022"/>
<path d="M248.7,558.2L257.7,558.2L253.2,566.3Z" fill="#22e022"/>
<path d="M261.7,557.8L270.7,557.8L266.2,565.8Z" fill="#22e022"/>
<path d="M274.7,557.0L283.7,557.0L279.2,565.0Z" fill="#22e022"/>
<path d="M287.7,555.7L296.7,555.7L292.2,563.8Z" fill="#22e022"/>
<path d="M300.7,555.2L309.7,555.2L305.2,563.2Z" fill="#22e022"/>
<path d="M313.7,553.9L322.7,553.9L318.2,561.9Z" fill="#22e022"/>
<path d="M326.7,553.4L335.7,553.4L331.2,561.4Z" fill="#22e022"/>
<path d="M339.7,553.1L348.7,553.1L344.2,561.1Z" fill="#22e022"/>
<path d="M352.6,552.6L361.6,552.6L357.1,560.6Z" fill="#22e022"/>
<path d="M365.6,552.1L374.6,552.1L370.1,560.1Z" fill="#22e022"/>
<path d="M378.6,552.6L387.6,552.6L383.1,560.6Z" fill="#22e022"/>
<path d="M391.6,552.1L400.6,552.1L396.1,560.1Z" fill="#22e022"/>
<path d="M404.6,551.5L413.6,551.5L409.1,559.5Z" fill="#22e022"/>
<path d="M417.6,551.5L426.6,551.5L422.1,559.5Z" fill="#22e022"/>
<path d="M430.6,551.5L439.6,551.5L435.1,559.5Z" fill="#22e022"/>
<path d="M443.6,550.8L452.6,550.8L448.1,558.8Z" fill="#22e022"/>
<path d="M456.6,556.5L465.6,556.5L461.1,564.5Z" fill="#22e022"/>
<polyline points="71.3,591.5 84.3,595.7 97.3,587.4 110.3,583.2 123.3,582.6 136.3,585.4 149.3,588.2 162.3,591.5 175.2,594.9 188.2,597.1 201.2,598.9 214.2,600.5 227.2,602.3 240.2,603.6 253.2,604.9 266.2,605.7 279.2,606.8 292.2,607.5 305.2,608.3 318.2,608.8 331.2,609.4 344.2,610.1 357.1,610.4 370.1,611.2 383.1,611.7 396.1,612.0 409.1,612.8 422.1,613.0 435.1,613.0 448.1,613.5 461.1,613.5" fill="none" stroke="#d81616" stroke-width="2.2" stroke-linejoin="round" stroke-linecap="round" />
<rect x="67.8" y="588.0" width="7.00" height="7.00" fill="#d81616"/>
<rect x="80.8" y="592.2" width="7.00" height="7.00" fill="#d81616"/>
<rect x="93.8" y="583.9" width="7.00" height="7.00" fill="#d81616"/>
<rect x="106.8" y="579.7" width="7.00" height="7.00" fill="#d81616"/>
<rect x="119.8" y="579.1" width="7.00" height="7.00" fill="#d81616"/>
<rect x="132.8" y="581.9" width="7.00" height="7.00" fill="#d81616"/>
<rect x="145.8" y="584.7" width="7.00" height="7.00" fill="#d81616"/>
<rect x="158.8" y="588.0" width="7.00" height="7.00" fill="#d81616"/>
<rect x="171.7" y="591.4" width="7.00" height="7.00" fill="#d81616"/>
<rect x="184.7" y="593.6" width="7.00" height="7.00" fill="#d81616"/>
<rect x="197.7" y="595.4" width="7.00" height="7.00" fill="#d81616"/>
<rect x="210.7" y="597.0" width="7.00" height="7.00" fill="#d81616"/>
<rect x="223.7" y="598.8" width="7.00" height="7.00" fill="#d81616"/>
<rect x="236.7" y="600.1" width="7.00" height="7.00" fill="#d81616"/>
<rect x="249.7" y="601.4" width="7.00" height="7.00" fill="#d81616"/>
<rect x="262.7" y="602.2" width="7.00" height="7.00" fill="#d81616"/>
<rect x="275.7" y="603.3" width="7.00" height="7.00" fill="#d81616"/>
<rect x="288.7" y="604.0" width="7.00" height="7.00" fill="#d81616"/>
<rect x="301.7" y="604.8" width="7.00" height="7.00" fill="#d81616"/>
<rect x="314.7" y="605.3" width="7.00" height="7.00" fill="#d81616"/>
<rect x="327.7" y="605.9" width="7.00" height="7.00" fill="#d81616"/>
<rect x="340.7" y="606.6" width="7.00" height="7.00" fill="#d81616"/>
<rect x="353.6" y="606.9" width="7.00" height="7.00" fill="#d81616"/>
<rect x="366.6" y="607.7" width="7.00" height="7.00" fill="#d81616"/>
<rect x="379.6" y="608.2" width="7.00" height="7.00" fill="#d81616"/>
<rect x="392.6" y="608.5" width="7.00" height="7.00" fill="#d81616"/>
<rect x="405.6" y="609.3" width="7.00" height="7.00" fill="#d81616"/>
<rect x="418.6" y="609.5" width="7.00" height="7.00" fill="#d81616"/>
<rect x="431.6" y="609.5" width="7.00" height="7.00" fill="#d81616"/>
<rect x="444.6" y="610.0" width="7.00" height="7.00" fill="#d81616"/>
<rect x="457.6" y="610.0" width="7.00" height="7.00" fill="#d81616"/>
<polyline points="71.3,583.2 84.3,582.0 97.3,598.1 110.3,596.3 123.3,592.5 136.3,592.1 149.3,591.8 162.3,591.8 175.2,589.2 188.2,590.0 201.2,591.1 214.2,592.6 227.2,594.5 240.2,595.0 253.2,595.0 266.2,594.5 279.2,595.0 292.2,595.5 305.2,595.8 318.2,596.3 331.2,597.1 344.2,597.1 357.1,596.6 370.1,597.6 383.1,597.6 396.1,597.1 409.1,596.8 422.1,596.6 435.1,596.8 448.1,597.6 461.1,597.9" fill="none" stroke="#1414c8" stroke-width="2.4" stroke-linejoin="round" stroke-linecap="round" />
<circle cx="71.3" cy="583.2" r="3.70" fill="#1414c8"/>
<circle cx="84.3" cy="582.0" r="3.70" fill="#1414c8"/>
<circle cx="97.3" cy="598.1" r="3.70" fill="#1414c8"/>
<circle cx="110.3" cy="596.3" r="3.70" fill="#1414c8"/>
<circle cx="123.3" cy="592.5" r="3.70" fill="#1414c8"/>
<circle cx="136.3" cy="592.1" r="3.70" fill="#1414c8"/>
<circle cx="149.3" cy="591.8" r="3.70" fill="#1414c8"/>
<circle cx="162.3" cy="591.8" r="3.70" fill="#1414c8"/>
<circle cx="175.2" cy="589.2" r="3.70" fill="#1414c8"/>
<circle cx="188.2" cy="590.0" r="3.70" fill="#1414c8"/>
<circle cx="201.2" cy="591.1" r="3.70" fill="#1414c8"/>
<circle cx="214.2" cy="592.6" r="3.70" fill="#1414c8"/>
<circle cx="227.2" cy="594.5" r="3.70" fill="#1414c8"/>
<circle cx="240.2" cy="595.0" r="3.70" fill="#1414c8"/>
<circle cx="253.2" cy="595.0" r="3.70" fill="#1414c8"/>
<circle cx="266.2" cy="594.5" r="3.70" fill="#1414c8"/>
<circle cx="279.2" cy="595.0" r="3.70" fill="#1414c8"/>
<circle cx="292.2" cy="595.5" r="3.70" fill="#1414c8"/>
<circle cx="305.2" cy="595.8" r="3.70" fill="#1414c8"/>
<circle cx="318.2" cy="596.3" r="3.70" fill="#1414c8"/>
<circle cx="331.2" cy="597.1" r="3.70" fill="#1414c8"/>
<circle cx="344.2" cy="597.1" r="3.70" fill="#1414c8"/>
<circle cx="357.1" cy="596.6" r="3.70" fill="#1414c8"/>
<circle cx="370.1" cy="597.6" r="3.70" fill="#1414c8"/>
<circle cx="383.1" cy="597.6" r="3.70" fill="#1414c8"/>
<circle cx="396.1" cy="597.1" r="3.70" fill="#1414c8"/>
<circle cx="409.1" cy="596.8" r="3.70" fill="#1414c8"/>
<circle cx="422.1" cy="596.6" r="3.70" fill="#1414c8"/>
<circle cx="435.1" cy="596.8" r="3.70" fill="#1414c8"/>
<circle cx="448.1" cy="597.6" r="3.70" fill="#1414c8"/>
<circle cx="461.1" cy="597.9" r="3.70" fill="#1414c8"/>
<line x1="77.00" y1="365.60" x2="112.00" y2="365.60" stroke="#22e022" stroke-width="2.2" />
<path d="M90.5,362.5L97.5,362.5L94.0,368.8Z" fill="#22e022"/>
<text x="0.00" y="0.00" font-size="16.5" text-anchor="start" font-weight="normal" fill="#1c1c1c" transform="translate(116.00 371.20) scale(0.948 1)" >HC</text>
<line x1="77.00" y1="384.80" x2="112.00" y2="384.80" stroke="#d81616" stroke-width="2.2" />
<rect x="90.5" y="381.3" width="7.00" height="7.00" fill="#d81616"/>
<text x="0.00" y="0.00" font-size="16.5" text-anchor="start" font-weight="normal" fill="#1c1c1c" transform="translate(116.00 390.40) scale(0.948 1)" >H2O2-HC</text>
<line x1="77.00" y1="404.00" x2="112.00" y2="404.00" stroke="#1414c8" stroke-width="2.2" />
<circle cx="94.0" cy="404.0" r="3.50" fill="#1414c8"/>
<text x="0.00" y="0.00" font-size="16.5" text-anchor="start" font-weight="normal" fill="#1c1c1c" transform="translate(116.00 409.60) scale(0.948 1)" >H2SO4-HC</text>
<line x1="546.90" y1="661.20" x2="546.90" y2="657.20" stroke="#1c1c1c" stroke-width="1.5" />
<line x1="546.90" y1="349.80" x2="546.90" y2="353.80" stroke="#1c1c1c" stroke-width="1.5" />
<line x1="611.96" y1="661.20" x2="611.96" y2="657.20" stroke="#1c1c1c" stroke-width="1.5" />
<line x1="611.96" y1="349.80" x2="611.96" y2="353.80" stroke="#1c1c1c" stroke-width="1.5" />
<line x1="677.02" y1="661.20" x2="677.02" y2="657.20" stroke="#1c1c1c" stroke-width="1.5" />
<line x1="677.02" y1="349.80" x2="677.02" y2="353.80" stroke="#1c1c1c" stroke-width="1.5" />
<line x1="742.08" y1="661.20" x2="742.08" y2="657.20" stroke="#1c1c1c" stroke-width="1.5" />
<line x1="742.08" y1="349.80" x2="742.08" y2="353.80" stroke="#1c1c1c" stroke-width="1.5" />
<line x1="807.15" y1="661.20" x2="807.15" y2="657.20" stroke="#1c1c1c" stroke-width="1.5" />
<line x1="807.15" y1="349.80" x2="807.15" y2="353.80" stroke="#1c1c1c" stroke-width="1.5" />
<line x1="872.21" y1="661.20" x2="872.21" y2="657.20" stroke="#1c1c1c" stroke-width="1.5" />
<line x1="872.21" y1="349.80" x2="872.21" y2="353.80" stroke="#1c1c1c" stroke-width="1.5" />
<line x1="937.27" y1="661.20" x2="937.27" y2="657.20" stroke="#1c1c1c" stroke-width="1.5" />
<line x1="937.27" y1="349.80" x2="937.27" y2="353.80" stroke="#1c1c1c" stroke-width="1.5" />
<line x1="579.43" y1="661.20" x2="579.43" y2="659.20" stroke="#1c1c1c" stroke-width="1.5" />
<line x1="579.43" y1="349.80" x2="579.43" y2="351.80" stroke="#1c1c1c" stroke-width="1.5" />
<line x1="644.49" y1="661.20" x2="644.49" y2="659.20" stroke="#1c1c1c" stroke-width="1.5" />
<line x1="644.49" y1="349.80" x2="644.49" y2="351.80" stroke="#1c1c1c" stroke-width="1.5" />
<line x1="709.55" y1="661.20" x2="709.55" y2="659.20" stroke="#1c1c1c" stroke-width="1.5" />
<line x1="709.55" y1="349.80" x2="709.55" y2="351.80" stroke="#1c1c1c" stroke-width="1.5" />
<line x1="774.62" y1="661.20" x2="774.62" y2="659.20" stroke="#1c1c1c" stroke-width="1.5" />
<line x1="774.62" y1="349.80" x2="774.62" y2="351.80" stroke="#1c1c1c" stroke-width="1.5" />
<line x1="839.68" y1="661.20" x2="839.68" y2="659.20" stroke="#1c1c1c" stroke-width="1.5" />
<line x1="839.68" y1="349.80" x2="839.68" y2="351.80" stroke="#1c1c1c" stroke-width="1.5" />
<line x1="904.74" y1="661.20" x2="904.74" y2="659.20" stroke="#1c1c1c" stroke-width="1.5" />
<line x1="904.74" y1="349.80" x2="904.74" y2="351.80" stroke="#1c1c1c" stroke-width="1.5" />
<line x1="969.80" y1="661.20" x2="969.80" y2="659.20" stroke="#1c1c1c" stroke-width="1.5" />
<line x1="969.80" y1="349.80" x2="969.80" y2="351.80" stroke="#1c1c1c" stroke-width="1.5" />
<line x1="546.90" y1="647.05" x2="550.90" y2="647.05" stroke="#1c1c1c" stroke-width="1.5" />
<line x1="969.80" y1="647.05" x2="965.80" y2="647.05" stroke="#1c1c1c" stroke-width="1.5" />
<line x1="546.90" y1="618.74" x2="550.90" y2="618.74" stroke="#1c1c1c" stroke-width="1.5" />
<line x1="969.80" y1="618.74" x2="965.80" y2="618.74" stroke="#1c1c1c" stroke-width="1.5" />
<line x1="546.90" y1="590.43" x2="550.90" y2="590.43" stroke="#1c1c1c" stroke-width="1.5" />
<line x1="969.80" y1="590.43" x2="965.80" y2="590.43" stroke="#1c1c1c" stroke-width="1.5" />
<line x1="546.90" y1="562.12" x2="550.90" y2="562.12" stroke="#1c1c1c" stroke-width="1.5" />
<line x1="969.80" y1="562.12" x2="965.80" y2="562.12" stroke="#1c1c1c" stroke-width="1.5" />
<line x1="546.90" y1="533.81" x2="550.90" y2="533.81" stroke="#1c1c1c" stroke-width="1.5" />
<line x1="969.80" y1="533.81" x2="965.80" y2="533.81" stroke="#1c1c1c" stroke-width="1.5" />
<line x1="546.90" y1="505.50" x2="550.90" y2="505.50" stroke="#1c1c1c" stroke-width="1.5" />
<line x1="969.80" y1="505.50" x2="965.80" y2="505.50" stroke="#1c1c1c" stroke-width="1.5" />
<line x1="546.90" y1="477.19" x2="550.90" y2="477.19" stroke="#1c1c1c" stroke-width="1.5" />
<line x1="969.80" y1="477.19" x2="965.80" y2="477.19" stroke="#1c1c1c" stroke-width="1.5" />
<line x1="546.90" y1="448.88" x2="550.90" y2="448.88" stroke="#1c1c1c" stroke-width="1.5" />
<line x1="969.80" y1="448.88" x2="965.80" y2="448.88" stroke="#1c1c1c" stroke-width="1.5" />
<line x1="546.90" y1="420.57" x2="550.90" y2="420.57" stroke="#1c1c1c" stroke-width="1.5" />
<line x1="969.80" y1="420.57" x2="965.80" y2="420.57" stroke="#1c1c1c" stroke-width="1.5" />
<line x1="546.90" y1="392.26" x2="550.90" y2="392.26" stroke="#1c1c1c" stroke-width="1.5" />
<line x1="969.80" y1="392.26" x2="965.80" y2="392.26" stroke="#1c1c1c" stroke-width="1.5" />
<line x1="546.90" y1="363.95" x2="550.90" y2="363.95" stroke="#1c1c1c" stroke-width="1.5" />
<line x1="969.80" y1="363.95" x2="965.80" y2="363.95" stroke="#1c1c1c" stroke-width="1.5" />
<line x1="546.90" y1="661.20" x2="548.90" y2="661.20" stroke="#1c1c1c" stroke-width="1.5" />
<line x1="969.80" y1="661.20" x2="967.80" y2="661.20" stroke="#1c1c1c" stroke-width="1.5" />
<line x1="546.90" y1="632.89" x2="548.90" y2="632.89" stroke="#1c1c1c" stroke-width="1.5" />
<line x1="969.80" y1="632.89" x2="967.80" y2="632.89" stroke="#1c1c1c" stroke-width="1.5" />
<line x1="546.90" y1="604.58" x2="548.90" y2="604.58" stroke="#1c1c1c" stroke-width="1.5" />
<line x1="969.80" y1="604.58" x2="967.80" y2="604.58" stroke="#1c1c1c" stroke-width="1.5" />
<line x1="546.90" y1="576.27" x2="548.90" y2="576.27" stroke="#1c1c1c" stroke-width="1.5" />
<line x1="969.80" y1="576.27" x2="967.80" y2="576.27" stroke="#1c1c1c" stroke-width="1.5" />
<line x1="546.90" y1="547.96" x2="548.90" y2="547.96" stroke="#1c1c1c" stroke-width="1.5" />
<line x1="969.80" y1="547.96" x2="967.80" y2="547.96" stroke="#1c1c1c" stroke-width="1.5" />
<line x1="546.90" y1="519.65" x2="548.90" y2="519.65" stroke="#1c1c1c" stroke-width="1.5" />
<line x1="969.80" y1="519.65" x2="967.80" y2="519.65" stroke="#1c1c1c" stroke-width="1.5" />
<line x1="546.90" y1="491.35" x2="548.90" y2="491.35" stroke="#1c1c1c" stroke-width="1.5" />
<line x1="969.80" y1="491.35" x2="967.80" y2="491.35" stroke="#1c1c1c" stroke-width="1.5" />
<line x1="546.90" y1="463.04" x2="548.90" y2="463.04" stroke="#1c1c1c" stroke-width="1.5" />
<line x1="969.80" y1="463.04" x2="967.80" y2="463.04" stroke="#1c1c1c" stroke-width="1.5" />
<line x1="546.90" y1="434.73" x2="548.90" y2="434.73" stroke="#1c1c1c" stroke-width="1.5" />
<line x1="969.80" y1="434.73" x2="967.80" y2="434.73" stroke="#1c1c1c" stroke-width="1.5" />
<line x1="546.90" y1="406.42" x2="548.90" y2="406.42" stroke="#1c1c1c" stroke-width="1.5" />
<line x1="969.80" y1="406.42" x2="967.80" y2="406.42" stroke="#1c1c1c" stroke-width="1.5" />
<line x1="546.90" y1="378.11" x2="548.90" y2="378.11" stroke="#1c1c1c" stroke-width="1.5" />
<line x1="969.80" y1="378.11" x2="967.80" y2="378.11" stroke="#1c1c1c" stroke-width="1.5" />
<text x="0.00" y="0.00" font-size="16" text-anchor="end" font-weight="normal" fill="#1c1c1c" transform="translate(542.50 652.05) scale(0.96 1)" >3.4</text>
<text x="0.00" y="0.00" font-size="16" text-anchor="end" font-weight="normal" fill="#1c1c1c" transform="translate(542.50 623.74) scale(0.96 1)" >3.6</text>
<text x="0.00" y="0.00" font-size="16" text-anchor="end" font-weight="normal" fill="#1c1c1c" transform="translate(542.50 595.43) scale(0.96 1)" >3.8</text>
<text x="0.00" y="0.00" font-size="16" text-anchor="end" font-weight="normal" fill="#1c1c1c" transform="translate(542.50 567.12) scale(0.96 1)" >4.0</text>
<text x="0.00" y="0.00" font-size="16" text-anchor="end" font-weight="normal" fill="#1c1c1c" transform="translate(542.50 538.81) scale(0.96 1)" >4.2</text>
<text x="0.00" y="0.00" font-size="16" text-anchor="end" font-weight="normal" fill="#1c1c1c" transform="translate(542.50 510.50) scale(0.96 1)" >4.4</text>
<text x="0.00" y="0.00" font-size="16" text-anchor="end" font-weight="normal" fill="#1c1c1c" transform="translate(542.50 482.19) scale(0.96 1)" >4.6</text>
<text x="0.00" y="0.00" font-size="16" text-anchor="end" font-weight="normal" fill="#1c1c1c" transform="translate(542.50 453.88) scale(0.96 1)" >4.8</text>
<text x="0.00" y="0.00" font-size="16" text-anchor="end" font-weight="normal" fill="#1c1c1c" transform="translate(542.50 425.57) scale(0.96 1)" >5.0</text>
<text x="0.00" y="0.00" font-size="16" text-anchor="end" font-weight="normal" fill="#1c1c1c" transform="translate(542.50 397.26) scale(0.96 1)" >5.2</text>
<text x="0.00" y="0.00" font-size="16" text-anchor="end" font-weight="normal" fill="#1c1c1c" transform="translate(542.50 368.95) scale(0.96 1)" >5.4</text>
<text x="0.00" y="0.00" font-size="16" text-anchor="middle" font-weight="normal" fill="#1c1c1c" transform="translate(546.90 678.00) scale(0.96 1)" >0</text>
<text x="0.00" y="0.00" font-size="16" text-anchor="middle" font-weight="normal" fill="#1c1c1c" transform="translate(611.96 678.00) scale(0.96 1)" >50</text>
<text x="0.00" y="0.00" font-size="16" text-anchor="middle" font-weight="normal" fill="#1c1c1c" transform="translate(677.02 678.00) scale(0.96 1)" >100</text>
<text x="0.00" y="0.00" font-size="16" text-anchor="middle" font-weight="normal" fill="#1c1c1c" transform="translate(742.08 678.00) scale(0.96 1)" >150</text>
<text x="0.00" y="0.00" font-size="16" text-anchor="middle" font-weight="normal" fill="#1c1c1c" transform="translate(807.15 678.00) scale(0.96 1)" >200</text>
<text x="0.00" y="0.00" font-size="16" text-anchor="middle" font-weight="normal" fill="#1c1c1c" transform="translate(872.21 678.00) scale(0.96 1)" >250</text>
<text x="0.00" y="0.00" font-size="16" text-anchor="middle" font-weight="normal" fill="#1c1c1c" transform="translate(937.27 678.00) scale(0.96 1)" >300</text>
<text x="759.08" y="699.60" font-size="18.5" text-anchor="middle" font-weight="normal" fill="#1c1c1c" >Floating time (h)</text>
<text x="0.00" y="0.00" font-size="19.5" text-anchor="middle" font-weight="normal" fill="#1c1c1c" transform="translate(517.80 515.50) rotate(-90)" >E vs. Li/Li<tspan dy="-8" font-size="12">+</tspan><tspan dy="8"> (V)</tspan></text>
<text x="981.00" y="373.20" font-size="21.7" text-anchor="start" font-weight="bold" fill="#1c1c1c" >(d)</text>
<text x="0.00" y="0.00" font-size="20" text-anchor="middle" font-weight="normal" fill="#1c1c1c" transform="translate(587.80 483.10) scale(0.9 1)" >LP30</text>
<polyline points="546.9,597.1 559.9,598.1 572.9,587.6 585.9,582.0 599.0,577.6 612.0,573.6 625.0,569.3 638.0,567.3 651.0,563.9 664.0,559.5 677.0,555.0 690.0,549.3 703.1,543.6 716.1,538.6 729.1,535.7 742.1,538.5 755.1,536.1 768.1,534.0 781.1,531.7 794.1,528.8 807.2,527.2 820.2,524.2 833.2,522.6 846.2,519.8 859.2,516.6 872.2,515.5 885.2,513.6 898.3,512.7 911.3,511.4 924.3,510.5 937.3,509.8" fill="none" stroke="#22e022" stroke-width="2.4" stroke-linejoin="round" stroke-linecap="round" />
<path d="M542.4,593.1L551.4,593.1L546.9,601.1Z" fill="#22e022"/>
<path d="M555.4,594.1L564.4,594.1L559.9,602.1Z" fill="#22e022"/>
<path d="M568.4,583.6L577.4,583.6L572.9,591.6Z" fill="#22e022"/>
<path d="M581.4,578.0L590.4,578.0L585.9,586.0Z" fill="#22e022"/>
<path d="M594.5,573.6L603.5,573.6L599.0,581.6Z" fill="#22e022"/>
<path d="M607.5,569.6L616.5,569.6L612.0,577.6Z" fill="#22e022"/>
<path d="M620.5,565.2L629.5,565.2L625.0,573.3Z" fill="#22e022"/>
<path d="M633.5,563.2L642.5,563.2L638.0,571.3Z" fill="#22e022"/>
<path d="M646.5,559.9L655.5,559.9L651.0,567.9Z" fill="#22e022"/>
<path d="M659.5,555.5L668.5,555.5L664.0,563.5Z" fill="#22e022"/>
<path d="M672.5,551.0L681.5,551.0L677.0,559.0Z" fill="#22e022"/>
<path d="M685.5,545.2L694.5,545.2L690.0,553.3Z" fill="#22e022"/>
<path d="M698.6,539.6L707.6,539.6L703.1,547.6Z" fill="#22e022"/>
<path d="M711.6,534.6L720.6,534.6L716.1,542.6Z" fill="#22e022"/>
<path d="M724.6,531.7L733.6,531.7L729.1,539.8Z" fill="#22e022"/>
<path d="M737.6,534.5L746.6,534.5L742.1,542.5Z" fill="#22e022"/>
<path d="M750.6,532.1L759.6,532.1L755.1,540.1Z" fill="#22e022"/>
<path d="M763.6,530.0L772.6,530.0L768.1,538.0Z" fill="#22e022"/>
<path d="M776.6,527.7L785.6,527.7L781.1,535.8Z" fill="#22e022"/>
<path d="M789.6,524.8L798.6,524.8L794.1,532.8Z" fill="#22e022"/>
<path d="M802.7,523.2L811.7,523.2L807.2,531.2Z" fill="#22e022"/>
<path d="M815.7,520.2L824.7,520.2L820.2,528.2Z" fill="#22e022"/>
<path d="M828.7,518.6L837.7,518.6L833.2,526.6Z" fill="#22e022"/>
<path d="M841.7,515.8L850.7,515.8L846.2,523.8Z" fill="#22e022"/>
<path d="M854.7,512.6L863.7,512.6L859.2,520.6Z" fill="#22e022"/>
<path d="M867.7,511.4L876.7,511.4L872.2,519.5Z" fill="#22e022"/>
<path d="M880.7,509.6L889.7,509.6L885.2,517.6Z" fill="#22e022"/>
<path d="M893.8,508.7L902.8,508.7L898.3,516.8Z" fill="#22e022"/>
<path d="M906.8,507.3L915.8,507.3L911.3,515.4Z" fill="#22e022"/>
<path d="M919.8,506.4L928.8,506.4L924.3,514.5Z" fill="#22e022"/>
<path d="M932.8,505.8L941.8,505.8L937.3,513.9Z" fill="#22e022"/>
<polyline points="546.9,593.9 559.9,593.9 572.9,587.0 585.9,581.6 599.0,577.2 612.0,572.6 625.0,568.7 638.0,558.1 651.0,548.7 664.0,542.5 677.0,541.8 690.0,552.7 703.1,548.6 716.1,544.1 729.1,535.7 742.1,525.8 755.1,522.6 768.1,520.5 781.1,520.5 794.1,522.3 807.2,521.1 820.2,518.9 833.2,514.3 846.2,512.0 859.2,512.0 872.2,510.9 885.2,509.8 898.3,509.1 911.3,507.5 924.3,506.8 937.3,506.4" fill="none" stroke="#d81616" stroke-width="2.2" stroke-linejoin="round" stroke-linecap="round" />
<rect x="543.4" y="590.4" width="7.00" height="7.00" fill="#d81616"/>
<rect x="556.4" y="590.4" width="7.00" height="7.00" fill="#d81616"/>
<rect x="569.4" y="583.5" width="7.00" height="7.00" fill="#d81616"/>
<rect x="582.4" y="578.1" width="7.00" height="7.00" fill="#d81616"/>
<rect x="595.5" y="573.7" width="7.00" height="7.00" fill="#d81616"/>
<rect x="608.5" y="569.1" width="7.00" height="7.00" fill="#d81616"/>
<rect x="621.5" y="565.2" width="7.00" height="7.00" fill="#d81616"/>
<rect x="634.5" y="554.6" width="7.00" height="7.00" fill="#d81616"/>
<rect x="647.5" y="545.2" width="7.00" height="7.00" fill="#d81616"/>
<rect x="660.5" y="539.0" width="7.00" height="7.00" fill="#d81616"/>
<rect x="673.5" y="538.3" width="7.00" height="7.00" fill="#d81616"/>
<rect x="686.5" y="549.2" width="7.00" height="7.00" fill="#d81616"/>
<rect x="699.6" y="545.1" width="7.00" height="7.00" fill="#d81616"/>
<rect x="712.6" y="540.6" width="7.00" height="7.00" fill="#d81616"/>
<rect x="725.6" y="532.2" width="7.00" height="7.00" fill="#d81616"/>
<rect x="738.6" y="522.3" width="7.00" height="7.00" fill="#d81616"/>
<rect x="751.6" y="519.1" width="7.00" height="7.00" fill="#d81616"/>
<rect x="764.6" y="517.0" width="7.00" height="7.00" fill="#d81616"/>
<rect x="777.6" y="517.0" width="7.00" height="7.00" fill="#d81616"/>
<rect x="790.6" y="518.8" width="7.00" height="7.00" fill="#d81616"/>
<rect x="803.7" y="517.6" width="7.00" height="7.00" fill="#d81616"/>
<rect x="816.7" y="515.4" width="7.00" height="7.00" fill="#d81616"/>
<rect x="829.7" y="510.8" width="7.00" height="7.00" fill="#d81616"/>
<rect x="842.7" y="508.5" width="7.00" height="7.00" fill="#d81616"/>
<rect x="855.7" y="508.5" width="7.00" height="7.00" fill="#d81616"/>
<rect x="868.7" y="507.4" width="7.00" height="7.00" fill="#d81616"/>
<rect x="881.7" y="506.3" width="7.00" height="7.00" fill="#d81616"/>
<rect x="894.8" y="505.6" width="7.00" height="7.00" fill="#d81616"/>
<rect x="907.8" y="504.0" width="7.00" height="7.00" fill="#d81616"/>
<rect x="920.8" y="503.3" width="7.00" height="7.00" fill="#d81616"/>
<rect x="933.8" y="502.9" width="7.00" height="7.00" fill="#d81616"/>
<polyline points="546.9,604.5 559.9,620.2 572.9,632.3 585.9,630.2 599.0,629.4 612.0,630.9 625.0,631.9 638.0,631.7 651.0,629.3 664.0,624.3 677.0,617.5 690.0,607.3 703.1,596.6 716.1,579.3 729.1,579.3 742.1,585.8 755.1,591.1 768.1,588.6 781.1,591.6 794.1,595.0 807.2,593.9 820.2,596.1 833.2,600.0 846.2,595.8 859.2,589.3 872.2,588.6 885.2,587.7 898.3,587.5 911.3,587.5 924.3,587.5 937.3,588.6" fill="none" stroke="#1414c8" stroke-width="2.4" stroke-linejoin="round" stroke-linecap="round" />
<circle cx="546.9" cy="604.5" r="3.70" fill="#1414c8"/>
<circle cx="559.9" cy="620.2" r="3.70" fill="#1414c8"/>
<circle cx="572.9" cy="632.3" r="3.70" fill="#1414c8"/>
<circle cx="585.9" cy="630.2" r="3.70" fill="#1414c8"/>
<circle cx="599.0" cy="629.4" r="3.70" fill="#1414c8"/>
<circle cx="612.0" cy="630.9" r="3.70" fill="#1414c8"/>
<circle cx="625.0" cy="631.9" r="3.70" fill="#1414c8"/>
<circle cx="638.0" cy="631.7" r="3.70" fill="#1414c8"/>
<circle cx="651.0" cy="629.3" r="3.70" fill="#1414c8"/>
<circle cx="664.0" cy="624.3" r="3.70" fill="#1414c8"/>
<circle cx="677.0" cy="617.5" r="3.70" fill="#1414c8"/>
<circle cx="690.0" cy="607.3" r="3.70" fill="#1414c8"/>
<circle cx="703.1" cy="596.6" r="3.70" fill="#1414c8"/>
<circle cx="716.1" cy="579.3" r="3.70" fill="#1414c8"/>
<circle cx="729.1" cy="579.3" r="3.70" fill="#1414c8"/>
<circle cx="742.1" cy="585.8" r="3.70" fill="#1414c8"/>
<circle cx="755.1" cy="591.1" r="3.70" fill="#1414c8"/>
<circle cx="768.1" cy="588.6" r="3.70" fill="#1414c8"/>
<circle cx="781.1" cy="591.6" r="3.70" fill="#1414c8"/>
<circle cx="794.1" cy="595.0" r="3.70" fill="#1414c8"/>
<circle cx="807.2" cy="593.9" r="3.70" fill="#1414c8"/>
<circle cx="820.2" cy="596.1" r="3.70" fill="#1414c8"/>
<circle cx="833.2" cy="600.0" r="3.70" fill="#1414c8"/>
<circle cx="846.2" cy="595.8" r="3.70" fill="#1414c8"/>
<circle cx="859.2" cy="589.3" r="3.70" fill="#1414c8"/>
<circle cx="872.2" cy="588.6" r="3.70" fill="#1414c8"/>
<circle cx="885.2" cy="587.7" r="3.70" fill="#1414c8"/>
<circle cx="898.3" cy="587.5" r="3.70" fill="#1414c8"/>
<circle cx="911.3" cy="587.5" r="3.70" fill="#1414c8"/>
<circle cx="924.3" cy="587.5" r="3.70" fill="#1414c8"/>
<circle cx="937.3" cy="588.6" r="3.70" fill="#1414c8"/>
<polyline points="546.9,531.8 559.9,530.2 572.9,528.3 585.9,526.5 599.0,524.9 612.0,523.5 625.0,522.3 638.0,520.5 651.0,518.7 664.0,515.2 677.0,513.0 690.0,509.5 703.1,507.7 716.1,505.5 729.1,503.9 742.1,502.8 755.1,503.2 768.1,501.8 781.1,499.5 794.1,498.4 807.2,496.8 820.2,495.5 833.2,494.5 846.2,492.9 859.2,492.3 872.2,490.9 885.2,490.0 898.3,489.3 911.3,489.3 924.3,488.6 937.3,487.7" fill="none" stroke="#f8f050" stroke-width="2.6" stroke-linejoin="round" stroke-linecap="round" />
<path d="M542.4,535.8L551.4,535.8L546.9,527.8Z" fill="#f08424"/>
<path d="M555.4,534.2L564.4,534.2L559.9,526.2Z" fill="#f08424"/>
<path d="M568.4,532.3L577.4,532.3L572.9,524.2Z" fill="#f08424"/>
<path d="M581.4,530.5L590.4,530.5L585.9,522.5Z" fill="#f08424"/>
<path d="M594.5,528.9L603.5,528.9L599.0,520.9Z" fill="#f08424"/>
<path d="M607.5,527.5L616.5,527.5L612.0,519.5Z" fill="#f08424"/>
<path d="M620.5,526.3L629.5,526.3L625.0,518.2Z" fill="#f08424"/>
<path d="M633.5,524.5L642.5,524.5L638.0,516.5Z" fill="#f08424"/>
<path d="M646.5,522.8L655.5,522.8L651.0,514.7Z" fill="#f08424"/>
<path d="M659.5,519.2L668.5,519.2L664.0,511.2Z" fill="#f08424"/>
<path d="M672.5,517.0L681.5,517.0L677.0,508.9Z" fill="#f08424"/>
<path d="M685.5,513.5L694.5,513.5L690.0,505.4Z" fill="#f08424"/>
<path d="M698.6,511.8L707.6,511.8L703.1,503.6Z" fill="#f08424"/>
<path d="M711.6,509.6L720.6,509.6L716.1,501.4Z" fill="#f08424"/>
<path d="M724.6,507.9L733.6,507.9L729.1,499.8Z" fill="#f08424"/>
<path d="M737.6,506.9L746.6,506.9L742.1,498.8Z" fill="#f08424"/>
<path d="M750.6,507.2L759.6,507.2L755.1,499.1Z" fill="#f08424"/>
<path d="M763.6,505.9L772.6,505.9L768.1,497.8Z" fill="#f08424"/>
<path d="M776.6,503.6L785.6,503.6L781.1,495.4Z" fill="#f08424"/>
<path d="M789.6,502.4L798.6,502.4L794.1,494.3Z" fill="#f08424"/>
<path d="M802.7,500.9L811.7,500.9L807.2,492.8Z" fill="#f08424"/>
<path d="M815.7,499.6L824.7,499.6L820.2,491.4Z" fill="#f08424"/>
<path d="M828.7,498.6L837.7,498.6L833.2,490.4Z" fill="#f08424"/>
<path d="M841.7,496.9L850.7,496.9L846.2,488.8Z" fill="#f08424"/>
<path d="M854.7,496.4L863.7,496.4L859.2,488.2Z" fill="#f08424"/>
<path d="M867.7,494.9L876.7,494.9L872.2,486.8Z" fill="#f08424"/>
<path d="M880.7,494.1L889.7,494.1L885.2,485.9Z" fill="#f08424"/>
<path d="M893.8,493.4L902.8,493.4L898.3,485.2Z" fill="#f08424"/>
<path d="M906.8,493.4L915.8,493.4L911.3,485.2Z" fill="#f08424"/>
<path d="M919.8,492.7L928.8,492.7L924.3,484.6Z" fill="#f08424"/>
<path d="M932.8,491.8L941.8,491.8L937.3,483.6Z" fill="#f08424"/>
<polyline points="546.9,619.0 559.9,606.5 572.9,597.1 585.9,589.2 599.0,582.0 612.0,576.0 625.0,569.7 638.0,562.1 651.0,556.4 664.0,552.3 677.0,548.6 690.0,548.2 703.1,544.8 716.1,544.1 729.1,540.9 742.1,536.0 755.1,533.0 768.1,530.2 781.1,528.0 794.1,525.7 807.2,524.1 820.2,522.7 833.2,521.1 846.2,521.4 859.2,519.5 872.2,517.7 885.2,515.5 898.3,514.3 911.3,513.2 924.3,512.0 937.3,511.4" fill="none" stroke="#f088f0" stroke-width="2.2" stroke-linejoin="round" stroke-linecap="round" />
<path d="M546.9,614.0L551.4,619.0L546.9,624.0L542.4,619.0Z" fill="#f088f0"/>
<path d="M559.9,601.5L564.4,606.5L559.9,611.5L555.4,606.5Z" fill="#f088f0"/>
<path d="M572.9,592.1L577.4,597.1L572.9,602.1L568.4,597.1Z" fill="#f088f0"/>
<path d="M585.9,584.2L590.4,589.2L585.9,594.2L581.4,589.2Z" fill="#f088f0"/>
<path d="M599.0,577.0L603.5,582.0L599.0,587.0L594.5,582.0Z" fill="#f088f0"/>
<path d="M612.0,571.0L616.5,576.0L612.0,581.0L607.5,576.0Z" fill="#f088f0"/>
<path d="M625.0,564.7L629.5,569.7L625.0,574.7L620.5,569.7Z" fill="#f088f0"/>
<path d="M638.0,557.1L642.5,562.1L638.0,567.1L633.5,562.1Z" fill="#f088f0"/>
<path d="M651.0,551.4L655.5,556.4L651.0,561.4L646.5,556.4Z" fill="#f088f0"/>
<path d="M664.0,547.3L668.5,552.3L664.0,557.3L659.5,552.3Z" fill="#f088f0"/>
<path d="M677.0,543.6L681.5,548.6L677.0,553.6L672.5,548.6Z" fill="#f088f0"/>
<path d="M690.0,543.2L694.5,548.2L690.0,553.2L685.5,548.2Z" fill="#f088f0"/>
<path d="M703.1,539.8L707.6,544.8L703.1,549.8L698.6,544.8Z" fill="#f088f0"/>
<path d="M716.1,539.1L720.6,544.1L716.1,549.1L711.6,544.1Z" fill="#f088f0"/>
<path d="M729.1,535.9L733.6,540.9L729.1,545.9L724.6,540.9Z" fill="#f088f0"/>
<path d="M742.1,531.0L746.6,536.0L742.1,541.0L737.6,536.0Z" fill="#f088f0"/>
<path d="M755.1,528.0L759.6,533.0L755.1,538.0L750.6,533.0Z" fill="#f088f0"/>
<path d="M768.1,525.2L772.6,530.2L768.1,535.2L763.6,530.2Z" fill="#f088f0"/>
<path d="M781.1,523.0L785.6,528.0L781.1,533.0L776.6,528.0Z" fill="#f088f0"/>
<path d="M794.1,520.7L798.6,525.7L794.1,530.7L789.6,525.7Z" fill="#f088f0"/>
<path d="M807.2,519.1L811.7,524.1L807.2,529.1L802.7,524.1Z" fill="#f088f0"/>
<path d="M820.2,517.7L824.7,522.7L820.2,527.7L815.7,522.7Z" fill="#f088f0"/>
<path d="M833.2,516.1L837.7,521.1L833.2,526.1L828.7,521.1Z" fill="#f088f0"/>
<path d="M846.2,516.4L850.7,521.4L846.2,526.4L841.7,521.4Z" fill="#f088f0"/>
<path d="M859.2,514.5L863.7,519.5L859.2,524.5L854.7,519.5Z" fill="#f088f0"/>
<path d="M872.2,512.7L876.7,517.7L872.2,522.7L867.7,517.7Z" fill="#f088f0"/>
<path d="M885.2,510.5L889.7,515.5L885.2,520.5L880.7,515.5Z" fill="#f088f0"/>
<path d="M898.3,509.3L902.8,514.3L898.3,519.3L893.8,514.3Z" fill="#f088f0"/>
<path d="M911.3,508.2L915.8,513.2L911.3,518.2L906.8,513.2Z" fill="#f088f0"/>
<path d="M924.3,507.0L928.8,512.0L924.3,517.0L919.8,512.0Z" fill="#f088f0"/>
<path d="M937.3,506.4L941.8,511.4L937.3,516.4L932.8,511.4Z" fill="#f088f0"/>
<line x1="551.60" y1="363.00" x2="587.50" y2="363.00" stroke="#22e022" stroke-width="2.2" />
<path d="M565.5,359.6L573.0,359.6L569.2,366.4Z" fill="#22e022"/>
<text x="0.00" y="0.00" font-size="16.5" text-anchor="start" font-weight="normal" fill="#1c1c1c" transform="translate(591.30 368.60) scale(0.948 1)" >HC</text>
<line x1="551.60" y1="382.20" x2="587.50" y2="382.20" stroke="#d81616" stroke-width="2.2" />
<rect x="565.5" y="378.4" width="7.50" height="7.50" fill="#d81616"/>
<text x="0.00" y="0.00" font-size="16.5" text-anchor="start" font-weight="normal" fill="#1c1c1c" transform="translate(591.30 387.80) scale(0.948 1)" >H2O2-HC</text>
<line x1="551.60" y1="401.40" x2="587.50" y2="401.40" stroke="#1414c8" stroke-width="2.2" />
<circle cx="569.2" cy="401.4" r="3.75" fill="#1414c8"/>
<text x="0.00" y="0.00" font-size="16.5" text-anchor="start" font-weight="normal" fill="#1c1c1c" transform="translate(591.30 407.00) scale(0.948 1)" >H2SO4-HC</text>
<line x1="551.60" y1="420.60" x2="587.50" y2="420.60" stroke="#f8f050" stroke-width="2.2" />
<path d="M565.5,424.0L573.0,424.0L569.2,417.2Z" fill="#f08424"/>
<text x="0.00" y="0.00" font-size="16.5" text-anchor="start" font-weight="normal" fill="#1c1c1c" transform="translate(591.30 426.20) scale(0.948 1)" >N-HC</text>
<line x1="551.60" y1="439.80" x2="587.50" y2="439.80" stroke="#f088f0" stroke-width="2.2" />
<path d="M569.2,435.6L573.0,439.8L569.2,444.0L565.5,439.8Z" fill="#f088f0"/>
<text x="0.00" y="0.00" font-size="16.5" text-anchor="start" font-weight="normal" fill="#1c1c1c" transform="translate(591.30 445.40) scale(0.948 1)" >RE-HC</text>
<rect x="71.30" y="351.40" width="422.10" height="310.90" fill="none" stroke="#1c1c1c" stroke-width="1.6"/>
<rect x="546.90" y="349.80" width="422.90" height="311.40" fill="none" stroke="#1c1c1c" stroke-width="1.6"/>
<rect x="296.8" y="351.4" width="196.59999999999997" height="155.60000000000002" fill="#fff" stroke="none"/>
<line x1="296.80" y1="507.00" x2="296.80" y2="504.50" stroke="#1c1c1c" stroke-width="1" />
<line x1="326.93" y1="507.00" x2="326.93" y2="504.50" stroke="#1c1c1c" stroke-width="1" />
<line x1="357.05" y1="507.00" x2="357.05" y2="504.50" stroke="#1c1c1c" stroke-width="1" />
<line x1="387.18" y1="507.00" x2="387.18" y2="504.50" stroke="#1c1c1c" stroke-width="1" />
<line x1="417.30" y1="507.00" x2="417.30" y2="504.50" stroke="#1c1c1c" stroke-width="1" />
<line x1="447.43" y1="507.00" x2="447.43" y2="504.50" stroke="#1c1c1c" stroke-width="1" />
<line x1="477.55" y1="507.00" x2="477.55" y2="504.50" stroke="#1c1c1c" stroke-width="1" />
<line x1="311.86" y1="507.00" x2="311.86" y2="505.70" stroke="#1c1c1c" stroke-width="1" />
<line x1="341.99" y1="507.00" x2="341.99" y2="505.70" stroke="#1c1c1c" stroke-width="1" />
<line x1="372.11" y1="507.00" x2="372.11" y2="505.70" stroke="#1c1c1c" stroke-width="1" />
<line x1="402.24" y1="507.00" x2="402.24" y2="505.70" stroke="#1c1c1c" stroke-width="1" />
<line x1="432.36" y1="507.00" x2="432.36" y2="505.70" stroke="#1c1c1c" stroke-width="1" />
<line x1="462.49" y1="507.00" x2="462.49" y2="505.70" stroke="#1c1c1c" stroke-width="1" />
<line x1="492.61" y1="507.00" x2="492.61" y2="505.70" stroke="#1c1c1c" stroke-width="1" />
<line x1="296.80" y1="499.93" x2="299.30" y2="499.93" stroke="#1c1c1c" stroke-width="1" />
<line x1="296.80" y1="485.78" x2="299.30" y2="485.78" stroke="#1c1c1c" stroke-width="1" />
<line x1="296.80" y1="471.64" x2="299.30" y2="471.64" stroke="#1c1c1c" stroke-width="1" />
<line x1="296.80" y1="457.49" x2="299.30" y2="457.49" stroke="#1c1c1c" stroke-width="1" />
<line x1="296.80" y1="443.35" x2="299.30" y2="443.35" stroke="#1c1c1c" stroke-width="1" />
<line x1="296.80" y1="429.20" x2="299.30" y2="429.20" stroke="#1c1c1c" stroke-width="1" />
<line x1="296.80" y1="415.05" x2="299.30" y2="415.05" stroke="#1c1c1c" stroke-width="1" />
<line x1="296.80" y1="400.91" x2="299.30" y2="400.91" stroke="#1c1c1c" stroke-width="1" />
<line x1="296.80" y1="386.76" x2="299.30" y2="386.76" stroke="#1c1c1c" stroke-width="1" />
<line x1="296.80" y1="372.62" x2="299.30" y2="372.62" stroke="#1c1c1c" stroke-width="1" />
<line x1="296.80" y1="358.47" x2="299.30" y2="358.47" stroke="#1c1c1c" stroke-width="1" />
<line x1="296.80" y1="492.85" x2="298.10" y2="492.85" stroke="#1c1c1c" stroke-width="1" />
<line x1="296.80" y1="478.71" x2="298.10" y2="478.71" stroke="#1c1c1c" stroke-width="1" />
<line x1="296.80" y1="464.56" x2="298.10" y2="464.56" stroke="#1c1c1c" stroke-width="1" />
<line x1="296.80" y1="450.42" x2="298.10" y2="450.42" stroke="#1c1c1c" stroke-width="1" />
<line x1="296.80" y1="436.27" x2="298.10" y2="436.27" stroke="#1c1c1c" stroke-width="1" />
<line x1="296.80" y1="422.13" x2="298.10" y2="422.13" stroke="#1c1c1c" stroke-width="1" />
<line x1="296.80" y1="407.98" x2="298.10" y2="407.98" stroke="#1c1c1c" stroke-width="1" />
<line x1="296.80" y1="393.84" x2="298.10" y2="393.84" stroke="#1c1c1c" stroke-width="1" />
<line x1="296.80" y1="379.69" x2="298.10" y2="379.69" stroke="#1c1c1c" stroke-width="1" />
<line x1="296.80" y1="365.55" x2="298.10" y2="365.55" stroke="#1c1c1c" stroke-width="1" />
<text x="294.70" y="503.13" font-size="9" text-anchor="end" font-weight="normal" fill="#333" stroke="#444" stroke-width="0.25">-0.2</text>
<text x="294.70" y="488.98" font-size="9" text-anchor="end" font-weight="normal" fill="#333" stroke="#444" stroke-width="0.25">-0.1</text>
<text x="294.70" y="474.84" font-size="9" text-anchor="end" font-weight="normal" fill="#333" stroke="#444" stroke-width="0.25">0.0</text>
<text x="294.70" y="460.69" font-size="9" text-anchor="end" font-weight="normal" fill="#333" stroke="#444" stroke-width="0.25">0.1</text>
<text x="294.70" y="446.55" font-size="9" text-anchor="end" font-weight="normal" fill="#333" stroke="#444" stroke-width="0.25">0.2</text>
<text x="294.70" y="432.40" font-size="9" text-anchor="end" font-weight="normal" fill="#333" stroke="#444" stroke-width="0.25">0.3</text>
<text x="294.70" y="418.25" font-size="9" text-anchor="end" font-weight="normal" fill="#333" stroke="#444" stroke-width="0.25">0.4</text>
<text x="294.70" y="404.11" font-size="9" text-anchor="end" font-weight="normal" fill="#333" stroke="#444" stroke-width="0.25">0.5</text>
<text x="294.70" y="389.96" font-size="9" text-anchor="end" font-weight="normal" fill="#333" stroke="#444" stroke-width="0.25">0.6</text>
<text x="294.70" y="375.82" font-size="9" text-anchor="end" font-weight="normal" fill="#333" stroke="#444" stroke-width="0.25">0.7</text>
<text x="294.70" y="361.67" font-size="9" text-anchor="end" font-weight="normal" fill="#333" stroke="#444" stroke-width="0.25">0.8</text>
<text x="296.80" y="516.50" font-size="9" text-anchor="middle" font-weight="normal" fill="#333" stroke="#444" stroke-width="0.25">0</text>
<text x="326.93" y="516.50" font-size="9" text-anchor="middle" font-weight="normal" fill="#333" stroke="#444" stroke-width="0.25">50</text>
<text x="357.05" y="516.50" font-size="9" text-anchor="middle" font-weight="normal" fill="#333" stroke="#444" stroke-width="0.25">100</text>
<text x="387.18" y="516.50" font-size="9" text-anchor="middle" font-weight="normal" fill="#333" stroke="#444" stroke-width="0.25">150</text>
<text x="417.30" y="516.50" font-size="9" text-anchor="middle" font-weight="normal" fill="#333" stroke="#444" stroke-width="0.25">200</text>
<text x="447.43" y="516.50" font-size="9" text-anchor="middle" font-weight="normal" fill="#333" stroke="#444" stroke-width="0.25">250</text>
<text x="477.55" y="516.50" font-size="9" text-anchor="middle" font-weight="normal" fill="#333" stroke="#444" stroke-width="0.25">300</text>
<text x="394.40" y="528.00" font-size="8.8" text-anchor="middle" font-weight="normal" fill="#333" stroke="#444" stroke-width="0.25">Floating time (h)</text>
<text x="0.00" y="0.00" font-size="10" text-anchor="middle" font-weight="normal" fill="#333" transform="translate(272.50 419.50) rotate(-90)" stroke="#444" stroke-width="0.2">E vs. Initial potential (V)</text>
<polyline points="296.8,471.8 302.8,475.8 308.9,467.8 314.9,464.4 320.9,463.3 326.9,466.1 333.0,469.3 339.0,473.0 345.0,475.0 351.0,477.5 357.1,479.8 363.1,481.5 369.1,483.0 375.1,484.1 381.2,485.5 387.2,486.4 393.2,487.5 399.2,488.1 405.2,489.0 411.3,489.4 417.3,489.8 423.3,490.7 429.4,491.3 435.4,492.2 441.4,492.6 447.4,492.6 453.5,493.3 459.5,493.9 465.5,493.9 471.5,494.5 477.6,494.9" fill="none" stroke="#c83030" stroke-width="1.1" stroke-linejoin="round" stroke-linecap="round" />
<rect x="295.1" y="470.1" width="3.40" height="3.40" fill="#d42020"/>
<rect x="301.1" y="474.1" width="3.40" height="3.40" fill="#d42020"/>
<rect x="307.2" y="466.1" width="3.40" height="3.40" fill="#d42020"/>
<rect x="313.2" y="462.7" width="3.40" height="3.40" fill="#d42020"/>
<rect x="319.2" y="461.6" width="3.40" height="3.40" fill="#d42020"/>
<rect x="325.2" y="464.4" width="3.40" height="3.40" fill="#d42020"/>
<rect x="331.3" y="467.6" width="3.40" height="3.40" fill="#d42020"/>
<rect x="337.3" y="471.3" width="3.40" height="3.40" fill="#d42020"/>
<rect x="343.3" y="473.3" width="3.40" height="3.40" fill="#d42020"/>
<rect x="349.3" y="475.8" width="3.40" height="3.40" fill="#d42020"/>
<rect x="355.4" y="478.1" width="3.40" height="3.40" fill="#d42020"/>
<rect x="361.4" y="479.8" width="3.40" height="3.40" fill="#d42020"/>
<rect x="367.4" y="481.3" width="3.40" height="3.40" fill="#d42020"/>
<rect x="373.4" y="482.4" width="3.40" height="3.40" fill="#d42020"/>
<rect x="379.5" y="483.8" width="3.40" height="3.40" fill="#d42020"/>
<rect x="385.5" y="484.7" width="3.40" height="3.40" fill="#d42020"/>
<rect x="391.5" y="485.8" width="3.40" height="3.40" fill="#d42020"/>
<rect x="397.5" y="486.4" width="3.40" height="3.40" fill="#d42020"/>
<rect x="403.6" y="487.3" width="3.40" height="3.40" fill="#d42020"/>
<rect x="409.6" y="487.7" width="3.40" height="3.40" fill="#d42020"/>
<rect x="415.6" y="488.1" width="3.40" height="3.40" fill="#d42020"/>
<rect x="421.6" y="489.0" width="3.40" height="3.40" fill="#d42020"/>
<rect x="427.7" y="489.6" width="3.40" height="3.40" fill="#d42020"/>
<rect x="433.7" y="490.5" width="3.40" height="3.40" fill="#d42020"/>
<rect x="439.7" y="490.9" width="3.40" height="3.40" fill="#d42020"/>
<rect x="445.7" y="490.9" width="3.40" height="3.40" fill="#d42020"/>
<rect x="451.8" y="491.6" width="3.40" height="3.40" fill="#d42020"/>
<rect x="457.8" y="492.2" width="3.40" height="3.40" fill="#d42020"/>
<rect x="463.8" y="492.2" width="3.40" height="3.40" fill="#d42020"/>
<rect x="469.8" y="492.8" width="3.40" height="3.40" fill="#d42020"/>
<rect x="475.9" y="493.2" width="3.40" height="3.40" fill="#d42020"/>
<polyline points="296.8,471.8 302.8,476.4 308.9,492.8 314.9,494.0 320.9,491.1 326.9,483.8 333.0,477.3 339.0,472.8 345.0,467.8 351.0,462.9 357.1,459.9 363.1,458.9 369.1,457.9 375.1,455.9 381.2,454.5 387.2,453.8 393.2,453.4 399.2,452.4 405.2,451.1 411.3,450.4 417.3,449.4 423.3,449.2 429.4,448.1 435.4,448.5 441.4,448.8 447.4,448.5 453.5,447.9 459.5,447.3 465.5,447.3 471.5,446.9 477.6,451.7" fill="none" stroke="#22e022" stroke-width="1.1" stroke-linejoin="round" stroke-linecap="round" />
<path d="M294.6,469.8L299.1,469.8L296.8,473.8Z" fill="#22e022"/>
<path d="M300.6,474.4L305.1,474.4L302.8,478.4Z" fill="#22e022"/>
<path d="M306.6,490.8L311.1,490.8L308.9,494.8Z" fill="#22e022"/>
<path d="M312.6,492.0L317.1,492.0L314.9,496.0Z" fill="#22e022"/>
<path d="M318.7,489.1L323.2,489.1L320.9,493.1Z" fill="#22e022"/>
<path d="M324.7,481.8L329.2,481.8L326.9,485.8Z" fill="#22e022"/>
<path d="M330.7,475.3L335.2,475.3L333.0,479.3Z" fill="#22e022"/>
<path d="M336.7,470.8L341.2,470.8L339.0,474.8Z" fill="#22e022"/>
<path d="M342.8,465.8L347.2,465.8L345.0,469.8Z" fill="#22e022"/>
<path d="M348.8,460.9L353.3,460.9L351.0,464.9Z" fill="#22e022"/>
<path d="M354.8,457.9L359.3,457.9L357.1,461.9Z" fill="#22e022"/>
<path d="M360.8,456.9L365.3,456.9L363.1,460.9Z" fill="#22e022"/>
<path d="M366.9,455.9L371.4,455.9L369.1,459.9Z" fill="#22e022"/>
<path d="M372.9,453.9L377.4,453.9L375.1,457.9Z" fill="#22e022"/>
<path d="M378.9,452.5L383.4,452.5L381.2,456.5Z" fill="#22e022"/>
<path d="M384.9,451.8L389.4,451.8L387.2,455.8Z" fill="#22e022"/>
<path d="M391.0,451.4L395.5,451.4L393.2,455.4Z" fill="#22e022"/>
<path d="M397.0,450.4L401.5,450.4L399.2,454.4Z" fill="#22e022"/>
<path d="M403.0,449.1L407.5,449.1L405.2,453.1Z" fill="#22e022"/>
<path d="M409.0,448.4L413.5,448.4L411.3,452.4Z" fill="#22e022"/>
<path d="M415.1,447.4L419.6,447.4L417.3,451.4Z" fill="#22e022"/>
<path d="M421.1,447.2L425.6,447.2L423.3,451.2Z" fill="#22e022"/>
<path d="M427.1,446.1L431.6,446.1L429.4,450.1Z" fill="#22e022"/>
<path d="M433.1,446.5L437.6,446.5L435.4,450.5Z" fill="#22e022"/>
<path d="M439.2,446.8L443.7,446.8L441.4,450.8Z" fill="#22e022"/>
<path d="M445.2,446.5L449.7,446.5L447.4,450.5Z" fill="#22e022"/>
<path d="M451.2,445.9L455.7,445.9L453.5,449.9Z" fill="#22e022"/>
<path d="M457.2,445.3L461.7,445.3L459.5,449.3Z" fill="#22e022"/>
<path d="M463.2,445.3L467.8,445.3L465.5,449.3Z" fill="#22e022"/>
<path d="M469.3,444.9L473.8,444.9L471.5,448.9Z" fill="#22e022"/>
<path d="M475.3,449.7L479.8,449.7L477.6,453.7Z" fill="#22e022"/>
<polyline points="296.8,471.8 302.8,470.7 308.9,486.4 314.9,484.9 320.9,480.9 326.9,480.3 333.0,480.0 339.0,480.3 345.0,478.6 351.0,478.9 357.1,480.0 363.1,481.5 369.1,483.0 375.1,483.8 381.2,483.2 387.2,483.3 393.2,483.7 399.2,483.9 405.2,484.3 411.3,484.7 417.3,485.6 423.3,485.6 429.4,485.2 435.4,486.0 441.4,486.2 447.4,485.8 453.5,485.8 459.5,485.0 465.5,485.3 471.5,486.2 477.6,486.6" fill="none" stroke="#3030c0" stroke-width="1.1" stroke-linejoin="round" stroke-linecap="round" />
<circle cx="296.8" cy="471.8" r="1.80" fill="#2020c8"/>
<circle cx="302.8" cy="470.7" r="1.80" fill="#2020c8"/>
<circle cx="308.9" cy="486.4" r="1.80" fill="#2020c8"/>
<circle cx="314.9" cy="484.9" r="1.80" fill="#2020c8"/>
<circle cx="320.9" cy="480.9" r="1.80" fill="#2020c8"/>
<circle cx="326.9" cy="480.3" r="1.80" fill="#2020c8"/>
<circle cx="333.0" cy="480.0" r="1.80" fill="#2020c8"/>
<circle cx="339.0" cy="480.3" r="1.80" fill="#2020c8"/>
<circle cx="345.0" cy="478.6" r="1.80" fill="#2020c8"/>
<circle cx="351.0" cy="478.9" r="1.80" fill="#2020c8"/>
<circle cx="357.1" cy="480.0" r="1.80" fill="#2020c8"/>
<circle cx="363.1" cy="481.5" r="1.80" fill="#2020c8"/>
<circle cx="369.1" cy="483.0" r="1.80" fill="#2020c8"/>
<circle cx="375.1" cy="483.8" r="1.80" fill="#2020c8"/>
<circle cx="381.2" cy="483.2" r="1.80" fill="#2020c8"/>
<circle cx="387.2" cy="483.3" r="1.80" fill="#2020c8"/>
<circle cx="393.2" cy="483.7" r="1.80" fill="#2020c8"/>
<circle cx="399.2" cy="483.9" r="1.80" fill="#2020c8"/>
<circle cx="405.2" cy="484.3" r="1.80" fill="#2020c8"/>
<circle cx="411.3" cy="484.7" r="1.80" fill="#2020c8"/>
<circle cx="417.3" cy="485.6" r="1.80" fill="#2020c8"/>
<circle cx="423.3" cy="485.6" r="1.80" fill="#2020c8"/>
<circle cx="429.4" cy="485.2" r="1.80" fill="#2020c8"/>
<circle cx="435.4" cy="486.0" r="1.80" fill="#2020c8"/>
<circle cx="441.4" cy="486.2" r="1.80" fill="#2020c8"/>
<circle cx="447.4" cy="485.8" r="1.80" fill="#2020c8"/>
<circle cx="453.5" cy="485.8" r="1.80" fill="#2020c8"/>
<circle cx="459.5" cy="485.0" r="1.80" fill="#2020c8"/>
<circle cx="465.5" cy="485.3" r="1.80" fill="#2020c8"/>
<circle cx="471.5" cy="486.2" r="1.80" fill="#2020c8"/>
<circle cx="477.6" cy="486.6" r="1.80" fill="#2020c8"/>
<line x1="296.80" y1="351.40" x2="296.80" y2="507.00" stroke="#2a2a2a" stroke-width="1.4" />
<line x1="296.80" y1="507.00" x2="493.40" y2="507.00" stroke="#2a2a2a" stroke-width="1.4" />
<rect x="808" y="349.8" width="161.79999999999995" height="127.19999999999999" fill="#fff" stroke="none"/>
<line x1="808.00" y1="477.00" x2="808.00" y2="475.00" stroke="#1c1c1c" stroke-width="1" />
<line x1="832.85" y1="477.00" x2="832.85" y2="475.00" stroke="#1c1c1c" stroke-width="1" />
<line x1="857.70" y1="477.00" x2="857.70" y2="475.00" stroke="#1c1c1c" stroke-width="1" />
<line x1="882.55" y1="477.00" x2="882.55" y2="475.00" stroke="#1c1c1c" stroke-width="1" />
<line x1="907.40" y1="477.00" x2="907.40" y2="475.00" stroke="#1c1c1c" stroke-width="1" />
<line x1="932.25" y1="477.00" x2="932.25" y2="475.00" stroke="#1c1c1c" stroke-width="1" />
<line x1="957.10" y1="477.00" x2="957.10" y2="475.00" stroke="#1c1c1c" stroke-width="1" />
<line x1="820.42" y1="477.00" x2="820.42" y2="475.90" stroke="#1c1c1c" stroke-width="1" />
<line x1="845.27" y1="477.00" x2="845.27" y2="475.90" stroke="#1c1c1c" stroke-width="1" />
<line x1="870.12" y1="477.00" x2="870.12" y2="475.90" stroke="#1c1c1c" stroke-width="1" />
<line x1="894.98" y1="477.00" x2="894.98" y2="475.90" stroke="#1c1c1c" stroke-width="1" />
<line x1="919.83" y1="477.00" x2="919.83" y2="475.90" stroke="#1c1c1c" stroke-width="1" />
<line x1="944.67" y1="477.00" x2="944.67" y2="475.90" stroke="#1c1c1c" stroke-width="1" />
<line x1="969.52" y1="477.00" x2="969.52" y2="475.90" stroke="#1c1c1c" stroke-width="1" />
<line x1="808.00" y1="471.22" x2="810.00" y2="471.22" stroke="#1c1c1c" stroke-width="1" />
<line x1="808.00" y1="459.65" x2="810.00" y2="459.65" stroke="#1c1c1c" stroke-width="1" />
<line x1="808.00" y1="448.09" x2="810.00" y2="448.09" stroke="#1c1c1c" stroke-width="1" />
<line x1="808.00" y1="436.53" x2="810.00" y2="436.53" stroke="#1c1c1c" stroke-width="1" />
<line x1="808.00" y1="424.96" x2="810.00" y2="424.96" stroke="#1c1c1c" stroke-width="1" />
<line x1="808.00" y1="413.40" x2="810.00" y2="413.40" stroke="#1c1c1c" stroke-width="1" />
<line x1="808.00" y1="401.84" x2="810.00" y2="401.84" stroke="#1c1c1c" stroke-width="1" />
<line x1="808.00" y1="390.27" x2="810.00" y2="390.27" stroke="#1c1c1c" stroke-width="1" />
<line x1="808.00" y1="378.71" x2="810.00" y2="378.71" stroke="#1c1c1c" stroke-width="1" />
<line x1="808.00" y1="367.15" x2="810.00" y2="367.15" stroke="#1c1c1c" stroke-width="1" />
<line x1="808.00" y1="355.58" x2="810.00" y2="355.58" stroke="#1c1c1c" stroke-width="1" />
<line x1="808.00" y1="465.44" x2="809.10" y2="465.44" stroke="#1c1c1c" stroke-width="1" />
<line x1="808.00" y1="453.87" x2="809.10" y2="453.87" stroke="#1c1c1c" stroke-width="1" />
<line x1="808.00" y1="442.31" x2="809.10" y2="442.31" stroke="#1c1c1c" stroke-width="1" />
<line x1="808.00" y1="430.75" x2="809.10" y2="430.75" stroke="#1c1c1c" stroke-width="1" />
<line x1="808.00" y1="419.18" x2="809.10" y2="419.18" stroke="#1c1c1c" stroke-width="1" />
<line x1="808.00" y1="407.62" x2="809.10" y2="407.62" stroke="#1c1c1c" stroke-width="1" />
<line x1="808.00" y1="396.05" x2="809.10" y2="396.05" stroke="#1c1c1c" stroke-width="1" />
<line x1="808.00" y1="384.49" x2="809.10" y2="384.49" stroke="#1c1c1c" stroke-width="1" />
<line x1="808.00" y1="372.93" x2="809.10" y2="372.93" stroke="#1c1c1c" stroke-width="1" />
<line x1="808.00" y1="361.36" x2="809.10" y2="361.36" stroke="#1c1c1c" stroke-width="1" />
<text x="806.50" y="474.22" font-size="8.5" text-anchor="end" font-weight="normal" fill="#333" stroke="#444" stroke-width="0.25">-0.2</text>
<text x="806.50" y="462.65" font-size="8.5" text-anchor="end" font-weight="normal" fill="#333" stroke="#444" stroke-width="0.25">-0.1</text>
<text x="806.50" y="451.09" font-size="8.5" text-anchor="end" font-weight="normal" fill="#333" stroke="#444" stroke-width="0.25">0.0</text>
<text x="806.50" y="439.53" font-size="8.5" text-anchor="end" font-weight="normal" fill="#333" stroke="#444" stroke-width="0.25">0.1</text>
<text x="806.50" y="427.96" font-size="8.5" text-anchor="end" font-weight="normal" fill="#333" stroke="#444" stroke-width="0.25">0.2</text>
<text x="806.50" y="416.40" font-size="8.5" text-anchor="end" font-weight="normal" fill="#333" stroke="#444" stroke-width="0.25">0.3</text>
<text x="806.50" y="404.84" font-size="8.5" text-anchor="end" font-weight="normal" fill="#333" stroke="#444" stroke-width="0.25">0.4</text>
<text x="806.50" y="393.27" font-size="8.5" text-anchor="end" font-weight="normal" fill="#333" stroke="#444" stroke-width="0.25">0.5</text>
<text x="806.50" y="381.71" font-size="8.5" text-anchor="end" font-weight="normal" fill="#333" stroke="#444" stroke-width="0.25">0.6</text>
<text x="806.50" y="370.15" font-size="8.5" text-anchor="end" font-weight="normal" fill="#333" stroke="#444" stroke-width="0.25">0.7</text>
<text x="806.50" y="358.58" font-size="8.5" text-anchor="end" font-weight="normal" fill="#333" stroke="#444" stroke-width="0.25">0.8</text>
<text x="808.00" y="485.50" font-size="8.5" text-anchor="middle" font-weight="normal" fill="#333" stroke="#444" stroke-width="0.25">0</text>
<text x="832.85" y="485.50" font-size="8.5" text-anchor="middle" font-weight="normal" fill="#333" stroke="#444" stroke-width="0.25">50</text>
<text x="857.70" y="485.50" font-size="8.5" text-anchor="middle" font-weight="normal" fill="#333" stroke="#444" stroke-width="0.25">100</text>
<text x="882.55" y="485.50" font-size="8.5" text-anchor="middle" font-weight="normal" fill="#333" stroke="#444" stroke-width="0.25">150</text>
<text x="907.40" y="485.50" font-size="8.5" text-anchor="middle" font-weight="normal" fill="#333" stroke="#444" stroke-width="0.25">200</text>
<text x="932.25" y="485.50" font-size="8.5" text-anchor="middle" font-weight="normal" fill="#333" stroke="#444" stroke-width="0.25">250</text>
<text x="957.10" y="485.50" font-size="8.5" text-anchor="middle" font-weight="normal" fill="#333" stroke="#444" stroke-width="0.25">300</text>
<text x="889.00" y="495.00" font-size="8.5" text-anchor="middle" font-weight="normal" fill="#333" stroke="#444" stroke-width="0.25">Floating time (h)</text>
<text x="0.00" y="0.00" font-size="10.3" text-anchor="middle" font-weight="normal" fill="#333" transform="translate(786.50 413.50) rotate(-90)" stroke="#444" stroke-width="0.2">E vs. Initial potential (V)</text>
<polyline points="808.0,447.8 813.0,446.6 817.9,445.0 822.9,442.2 827.9,441.1 832.9,440.0 837.8,438.8 842.8,437.2 847.8,435.6 852.7,433.3 857.7,432.2 862.7,430.3 867.6,427.8 872.6,426.7 877.6,425.0 882.5,424.1 887.5,423.2 892.5,421.7 897.5,420.3 902.4,419.3 907.4,418.2 912.4,417.0 917.3,416.0 922.3,415.3 927.3,414.6 932.2,413.9 937.2,413.6 942.2,413.2 947.2,412.5 952.1,412.2 957.1,411.8" fill="none" stroke="#f0c060" stroke-width="1" stroke-linejoin="round" stroke-linecap="round" />
<path d="M806.2,449.4L809.8,449.4L808.0,446.2Z" fill="#f08424"/>
<path d="M811.2,448.2L814.8,448.2L813.0,445.0Z" fill="#f08424"/>
<path d="M816.1,446.6L819.7,446.6L817.9,443.4Z" fill="#f08424"/>
<path d="M821.1,443.8L824.7,443.8L822.9,440.6Z" fill="#f08424"/>
<path d="M826.1,442.7L829.7,442.7L827.9,439.5Z" fill="#f08424"/>
<path d="M831.1,441.6L834.6,441.6L832.9,438.4Z" fill="#f08424"/>
<path d="M836.0,440.4L839.6,440.4L837.8,437.2Z" fill="#f08424"/>
<path d="M841.0,438.8L844.6,438.8L842.8,435.6Z" fill="#f08424"/>
<path d="M846.0,437.2L849.6,437.2L847.8,434.0Z" fill="#f08424"/>
<path d="M850.9,434.9L854.5,434.9L852.7,431.7Z" fill="#f08424"/>
<path d="M855.9,433.8L859.5,433.8L857.7,430.6Z" fill="#f08424"/>
<path d="M860.9,431.9L864.5,431.9L862.7,428.7Z" fill="#f08424"/>
<path d="M865.8,429.4L869.4,429.4L867.6,426.2Z" fill="#f08424"/>
<path d="M870.8,428.3L874.4,428.3L872.6,425.1Z" fill="#f08424"/>
<path d="M875.8,426.6L879.4,426.6L877.6,423.4Z" fill="#f08424"/>
<path d="M880.8,425.7L884.3,425.7L882.5,422.5Z" fill="#f08424"/>
<path d="M885.7,424.8L889.3,424.8L887.5,421.6Z" fill="#f08424"/>
<path d="M890.7,423.3L894.3,423.3L892.5,420.1Z" fill="#f08424"/>
<path d="M895.7,421.9L899.3,421.9L897.5,418.7Z" fill="#f08424"/>
<path d="M900.6,420.9L904.2,420.9L902.4,417.7Z" fill="#f08424"/>
<path d="M905.6,419.8L909.2,419.8L907.4,416.6Z" fill="#f08424"/>
<path d="M910.6,418.6L914.2,418.6L912.4,415.4Z" fill="#f08424"/>
<path d="M915.5,417.6L919.1,417.6L917.3,414.4Z" fill="#f08424"/>
<path d="M920.5,416.9L924.1,416.9L922.3,413.7Z" fill="#f08424"/>
<path d="M925.5,416.2L929.1,416.2L927.3,413.0Z" fill="#f08424"/>
<path d="M930.5,415.5L934.0,415.5L932.2,412.3Z" fill="#f08424"/>
<path d="M935.4,415.2L939.0,415.2L937.2,412.0Z" fill="#f08424"/>
<path d="M940.4,414.8L944.0,414.8L942.2,411.6Z" fill="#f08424"/>
<path d="M945.4,414.1L949.0,414.1L947.2,410.9Z" fill="#f08424"/>
<path d="M950.3,413.8L953.9,413.8L952.1,410.6Z" fill="#f08424"/>
<path d="M955.3,413.4L958.9,413.4L957.1,410.2Z" fill="#f08424"/>
<polyline points="808.0,447.8 813.0,446.4 817.9,441.5 822.9,435.5 827.9,432.5 832.9,429.5 837.8,426.5 842.8,423.6 847.8,420.6 852.7,417.6 857.7,414.6 862.7,409.7 867.6,404.0 872.6,399.7 877.6,397.6 882.5,399.0 887.5,397.6 892.5,395.5 897.5,392.6 902.4,390.5 907.4,388.4 912.4,386.9 917.3,385.5 922.3,384.1 927.3,383.4 932.2,382.0 937.2,381.3 942.2,379.8 947.2,379.1 952.1,378.1 957.1,377.7" fill="none" stroke="#22e022" stroke-width="1" stroke-linejoin="round" stroke-linecap="round" />
<path d="M806.2,446.2L809.8,446.2L808.0,449.4Z" fill="#22e022"/>
<path d="M811.2,444.8L814.8,444.8L813.0,448.0Z" fill="#22e022"/>
<path d="M816.1,439.9L819.7,439.9L817.9,443.1Z" fill="#22e022"/>
<path d="M821.1,433.9L824.7,433.9L822.9,437.1Z" fill="#22e022"/>
<path d="M826.1,430.9L829.7,430.9L827.9,434.1Z" fill="#22e022"/>
<path d="M831.1,427.9L834.6,427.9L832.9,431.1Z" fill="#22e022"/>
<path d="M836.0,424.9L839.6,424.9L837.8,428.1Z" fill="#22e022"/>
<path d="M841.0,422.0L844.6,422.0L842.8,425.2Z" fill="#22e022"/>
<path d="M846.0,419.0L849.6,419.0L847.8,422.2Z" fill="#22e022"/>
<path d="M850.9,416.0L854.5,416.0L852.7,419.2Z" fill="#22e022"/>
<path d="M855.9,413.0L859.5,413.0L857.7,416.2Z" fill="#22e022"/>
<path d="M860.9,408.1L864.5,408.1L862.7,411.3Z" fill="#22e022"/>
<path d="M865.8,402.4L869.4,402.4L867.6,405.6Z" fill="#22e022"/>
<path d="M870.8,398.1L874.4,398.1L872.6,401.3Z" fill="#22e022"/>
<path d="M875.8,396.0L879.4,396.0L877.6,399.2Z" fill="#22e022"/>
<path d="M880.8,397.4L884.3,397.4L882.5,400.6Z" fill="#22e022"/>
<path d="M885.7,396.0L889.3,396.0L887.5,399.2Z" fill="#22e022"/>
<path d="M890.7,393.9L894.3,393.9L892.5,397.1Z" fill="#22e022"/>
<path d="M895.7,391.0L899.3,391.0L897.5,394.2Z" fill="#22e022"/>
<path d="M900.6,388.9L904.2,388.9L902.4,392.1Z" fill="#22e022"/>
<path d="M905.6,386.8L909.2,386.8L907.4,390.0Z" fill="#22e022"/>
<path d="M910.6,385.3L914.2,385.3L912.4,388.5Z" fill="#22e022"/>
<path d="M915.5,383.9L919.1,383.9L917.3,387.1Z" fill="#22e022"/>
<path d="M920.5,382.5L924.1,382.5L922.3,385.7Z" fill="#22e022"/>
<path d="M925.5,381.8L929.1,381.8L927.3,385.0Z" fill="#22e022"/>
<path d="M930.5,380.4L934.0,380.4L932.2,383.6Z" fill="#22e022"/>
<path d="M935.4,379.7L939.0,379.7L937.2,382.9Z" fill="#22e022"/>
<path d="M940.4,378.2L944.0,378.2L942.2,381.4Z" fill="#22e022"/>
<path d="M945.4,377.5L949.0,377.5L947.2,380.7Z" fill="#22e022"/>
<path d="M950.3,376.5L953.9,376.5L952.1,379.7Z" fill="#22e022"/>
<path d="M955.3,376.1L958.9,376.1L957.1,379.3Z" fill="#22e022"/>
<polyline points="808.0,447.8 813.0,438.8 817.9,430.9 822.9,424.4 827.9,419.2 832.9,413.8 837.8,408.3 842.8,402.8 847.8,398.1 852.7,395.0 857.7,392.6 862.7,391.2 867.6,388.4 872.6,387.2 877.6,384.8 882.5,381.5 887.5,379.1 892.5,376.7 897.5,374.4 902.4,372.7 907.4,371.3 912.4,370.6 917.3,370.2 922.3,368.5 927.3,367.3 932.2,365.6 937.2,364.2 942.2,363.5 947.2,362.8 952.1,361.6 957.1,361.1" fill="none" stroke="#f088f0" stroke-width="1" stroke-linejoin="round" stroke-linecap="round" />
<path d="M808.0,445.9L809.7,447.8L808.0,449.7L806.3,447.8Z" fill="#f088f0"/>
<path d="M813.0,436.9L814.7,438.8L813.0,440.7L811.3,438.8Z" fill="#f088f0"/>
<path d="M817.9,429.0L819.6,430.9L817.9,432.8L816.2,430.9Z" fill="#f088f0"/>
<path d="M822.9,422.5L824.6,424.4L822.9,426.3L821.2,424.4Z" fill="#f088f0"/>
<path d="M827.9,417.3L829.6,419.2L827.9,421.1L826.2,419.2Z" fill="#f088f0"/>
<path d="M832.9,411.9L834.6,413.8L832.9,415.7L831.1,413.8Z" fill="#f088f0"/>
<path d="M837.8,406.4L839.5,408.3L837.8,410.2L836.1,408.3Z" fill="#f088f0"/>
<path d="M842.8,400.9L844.5,402.8L842.8,404.7L841.1,402.8Z" fill="#f088f0"/>
<path d="M847.8,396.2L849.5,398.1L847.8,400.0L846.1,398.1Z" fill="#f088f0"/>
<path d="M852.7,393.1L854.4,395.0L852.7,396.9L851.0,395.0Z" fill="#f088f0"/>
<path d="M857.7,390.7L859.4,392.6L857.7,394.5L856.0,392.6Z" fill="#f088f0"/>
<path d="M862.7,389.3L864.4,391.2L862.7,393.1L861.0,391.2Z" fill="#f088f0"/>
<path d="M867.6,386.5L869.3,388.4L867.6,390.3L865.9,388.4Z" fill="#f088f0"/>
<path d="M872.6,385.3L874.3,387.2L872.6,389.1L870.9,387.2Z" fill="#f088f0"/>
<path d="M877.6,382.9L879.3,384.8L877.6,386.7L875.9,384.8Z" fill="#f088f0"/>
<path d="M882.5,379.6L884.2,381.5L882.5,383.4L880.8,381.5Z" fill="#f088f0"/>
<path d="M887.5,377.2L889.2,379.1L887.5,381.0L885.8,379.1Z" fill="#f088f0"/>
<path d="M892.5,374.8L894.2,376.7L892.5,378.6L890.8,376.7Z" fill="#f088f0"/>
<path d="M897.5,372.5L899.2,374.4L897.5,376.3L895.8,374.4Z" fill="#f088f0"/>
<path d="M902.4,370.8L904.1,372.7L902.4,374.6L900.7,372.7Z" fill="#f088f0"/>
<path d="M907.4,369.4L909.1,371.3L907.4,373.2L905.7,371.3Z" fill="#f088f0"/>
<path d="M912.4,368.7L914.1,370.6L912.4,372.5L910.7,370.6Z" fill="#f088f0"/>
<path d="M917.3,368.3L919.0,370.2L917.3,372.1L915.6,370.2Z" fill="#f088f0"/>
<path d="M922.3,366.6L924.0,368.5L922.3,370.4L920.6,368.5Z" fill="#f088f0"/>
<path d="M927.3,365.4L929.0,367.3L927.3,369.2L925.6,367.3Z" fill="#f088f0"/>
<path d="M932.2,363.7L934.0,365.6L932.2,367.5L930.5,365.6Z" fill="#f088f0"/>
<path d="M937.2,362.3L938.9,364.2L937.2,366.1L935.5,364.2Z" fill="#f088f0"/>
<path d="M942.2,361.6L943.9,363.5L942.2,365.4L940.5,363.5Z" fill="#f088f0"/>
<path d="M947.2,360.9L948.9,362.8L947.2,364.7L945.5,362.8Z" fill="#f088f0"/>
<path d="M952.1,359.7L953.8,361.6L952.1,363.5L950.4,361.6Z" fill="#f088f0"/>
<path d="M957.1,359.2L958.8,361.1L957.1,363.0L955.4,361.1Z" fill="#f088f0"/>
<polyline points="808.0,447.8 813.0,445.8 817.9,442.4 822.9,437.5 827.9,434.5 832.9,430.5 837.8,426.5 842.8,418.6 847.8,411.2 852.7,406.3 857.7,405.7 862.7,414.0 867.6,411.2 872.6,407.7 877.6,401.0 882.5,392.4 887.5,389.6 892.5,387.4 897.5,387.6 902.4,389.4 907.4,388.8 912.4,386.8 917.3,382.8 922.3,381.4 927.3,380.8 932.2,380.2 937.2,379.4 942.2,378.8 947.2,378.2 952.1,377.4 957.1,376.8" fill="none" stroke="#a02020" stroke-width="1" stroke-linejoin="round" stroke-linecap="round" />
<circle cx="808.0" cy="447.8" r="1.60" fill="#d42020"/>
<circle cx="813.0" cy="445.8" r="1.60" fill="#d42020"/>
<circle cx="817.9" cy="442.4" r="1.60" fill="#d42020"/>
<circle cx="822.9" cy="437.5" r="1.60" fill="#d42020"/>
<circle cx="827.9" cy="434.5" r="1.60" fill="#d42020"/>
<circle cx="832.9" cy="430.5" r="1.60" fill="#d42020"/>
<circle cx="837.8" cy="426.5" r="1.60" fill="#d42020"/>
<circle cx="842.8" cy="418.6" r="1.60" fill="#d42020"/>
<circle cx="847.8" cy="411.2" r="1.60" fill="#d42020"/>
<circle cx="852.7" cy="406.3" r="1.60" fill="#d42020"/>
<circle cx="857.7" cy="405.7" r="1.60" fill="#d42020"/>
<circle cx="862.7" cy="414.0" r="1.60" fill="#d42020"/>
<circle cx="867.6" cy="411.2" r="1.60" fill="#d42020"/>
<circle cx="872.6" cy="407.7" r="1.60" fill="#d42020"/>
<circle cx="877.6" cy="401.0" r="1.60" fill="#d42020"/>
<circle cx="882.5" cy="392.4" r="1.60" fill="#d42020"/>
<circle cx="887.5" cy="389.6" r="1.60" fill="#d42020"/>
<circle cx="892.5" cy="387.4" r="1.60" fill="#d42020"/>
<circle cx="897.5" cy="387.6" r="1.60" fill="#d42020"/>
<circle cx="902.4" cy="389.4" r="1.60" fill="#d42020"/>
<circle cx="907.4" cy="388.8" r="1.60" fill="#d42020"/>
<circle cx="912.4" cy="386.8" r="1.60" fill="#d42020"/>
<circle cx="917.3" cy="382.8" r="1.60" fill="#d42020"/>
<circle cx="922.3" cy="381.4" r="1.60" fill="#d42020"/>
<circle cx="927.3" cy="380.8" r="1.60" fill="#d42020"/>
<circle cx="932.2" cy="380.2" r="1.60" fill="#d42020"/>
<circle cx="937.2" cy="379.4" r="1.60" fill="#d42020"/>
<circle cx="942.2" cy="378.8" r="1.60" fill="#d42020"/>
<circle cx="947.2" cy="378.2" r="1.60" fill="#d42020"/>
<circle cx="952.1" cy="377.4" r="1.60" fill="#d42020"/>
<circle cx="957.1" cy="376.8" r="1.60" fill="#d42020"/>
<polyline points="808.0,449.4 813.0,460.3 817.9,470.3 822.9,468.3 827.9,468.3 832.9,469.3 837.8,470.3 842.8,470.3 847.8,468.3 852.7,464.9 857.7,458.9 862.7,450.4 867.6,441.8 872.6,428.5 877.6,427.5 882.5,432.5 887.5,436.3 892.5,435.3 897.5,437.3 902.4,439.9 907.4,439.1 912.4,441.1 917.3,443.8 922.3,441.1 927.3,435.9 932.2,435.5 937.2,434.5 942.2,433.9 947.2,434.5 952.1,434.5 957.1,434.5" fill="none" stroke="#3030c0" stroke-width="1" stroke-linejoin="round" stroke-linecap="round" />
<circle cx="808.0" cy="449.4" r="1.60" fill="#2020c8"/>
<circle cx="813.0" cy="460.3" r="1.60" fill="#2020c8"/>
<circle cx="817.9" cy="470.3" r="1.60" fill="#2020c8"/>
<circle cx="822.9" cy="468.3" r="1.60" fill="#2020c8"/>
<circle cx="827.9" cy="468.3" r="1.60" fill="#2020c8"/>
<circle cx="832.9" cy="469.3" r="1.60" fill="#2020c8"/>
<circle cx="837.8" cy="470.3" r="1.60" fill="#2020c8"/>
<circle cx="842.8" cy="470.3" r="1.60" fill="#2020c8"/>
<circle cx="847.8" cy="468.3" r="1.60" fill="#2020c8"/>
<circle cx="852.7" cy="464.9" r="1.60" fill="#2020c8"/>
<circle cx="857.7" cy="458.9" r="1.60" fill="#2020c8"/>
<circle cx="862.7" cy="450.4" r="1.60" fill="#2020c8"/>
<circle cx="867.6" cy="441.8" r="1.60" fill="#2020c8"/>
<circle cx="872.6" cy="428.5" r="1.60" fill="#2020c8"/>
<circle cx="877.6" cy="427.5" r="1.60" fill="#2020c8"/>
<circle cx="882.5" cy="432.5" r="1.60" fill="#2020c8"/>
<circle cx="887.5" cy="436.3" r="1.60" fill="#2020c8"/>
<circle cx="892.5" cy="435.3" r="1.60" fill="#2020c8"/>
<circle cx="897.5" cy="437.3" r="1.60" fill="#2020c8"/>
<circle cx="902.4" cy="439.9" r="1.60" fill="#2020c8"/>
<circle cx="907.4" cy="439.1" r="1.60" fill="#2020c8"/>
<circle cx="912.4" cy="441.1" r="1.60" fill="#2020c8"/>
<circle cx="917.3" cy="443.8" r="1.60" fill="#2020c8"/>
<circle cx="922.3" cy="441.1" r="1.60" fill="#2020c8"/>
<circle cx="927.3" cy="435.9" r="1.60" fill="#2020c8"/>
<circle cx="932.2" cy="435.5" r="1.60" fill="#2020c8"/>
<circle cx="937.2" cy="434.5" r="1.60" fill="#2020c8"/>
<circle cx="942.2" cy="433.9" r="1.60" fill="#2020c8"/>
<circle cx="947.2" cy="434.5" r="1.60" fill="#2020c8"/>
<circle cx="952.1" cy="434.5" r="1.60" fill="#2020c8"/>
<circle cx="957.1" cy="434.5" r="1.60" fill="#2020c8"/>
<line x1="808.00" y1="349.80" x2="808.00" y2="477.00" stroke="#555" stroke-width="1.3" />
<line x1="808.00" y1="477.00" x2="969.80" y2="477.00" stroke="#555" stroke-width="1.3" />
<line x1="71.30" y1="351.40" x2="493.40" y2="351.40" stroke="#1c1c1c" stroke-width="1.6" />
<line x1="493.40" y1="351.40" x2="493.40" y2="662.30" stroke="#1c1c1c" stroke-width="1.6" />
<line x1="71.30" y1="351.40" x2="71.30" y2="355.40" stroke="#1c1c1c" stroke-width="1.5" />
<line x1="136.16" y1="351.40" x2="136.16" y2="355.40" stroke="#1c1c1c" stroke-width="1.5" />
<line x1="201.02" y1="351.40" x2="201.02" y2="355.40" stroke="#1c1c1c" stroke-width="1.5" />
<line x1="265.88" y1="351.40" x2="265.88" y2="355.40" stroke="#1c1c1c" stroke-width="1.5" />
<line x1="330.73" y1="351.40" x2="330.73" y2="355.40" stroke="#1c1c1c" stroke-width="1.5" />
<line x1="395.59" y1="351.40" x2="395.59" y2="355.40" stroke="#1c1c1c" stroke-width="1.5" />
<line x1="460.45" y1="351.40" x2="460.45" y2="355.40" stroke="#1c1c1c" stroke-width="1.5" />
<line x1="103.73" y1="351.40" x2="103.73" y2="353.40" stroke="#1c1c1c" stroke-width="1.5" />
<line x1="168.59" y1="351.40" x2="168.59" y2="353.40" stroke="#1c1c1c" stroke-width="1.5" />
<line x1="233.45" y1="351.40" x2="233.45" y2="353.40" stroke="#1c1c1c" stroke-width="1.5" />
<line x1="298.31" y1="351.40" x2="298.31" y2="353.40" stroke="#1c1c1c" stroke-width="1.5" />
<line x1="363.16" y1="351.40" x2="363.16" y2="353.40" stroke="#1c1c1c" stroke-width="1.5" />
<line x1="428.02" y1="351.40" x2="428.02" y2="353.40" stroke="#1c1c1c" stroke-width="1.5" />
<line x1="492.88" y1="351.40" x2="492.88" y2="353.40" stroke="#1c1c1c" stroke-width="1.5" />
<line x1="493.40" y1="648.17" x2="489.40" y2="648.17" stroke="#1c1c1c" stroke-width="1.5" />
<line x1="493.40" y1="619.90" x2="489.40" y2="619.90" stroke="#1c1c1c" stroke-width="1.5" />
<line x1="493.40" y1="591.64" x2="489.40" y2="591.64" stroke="#1c1c1c" stroke-width="1.5" />
<line x1="493.40" y1="563.38" x2="489.40" y2="563.38" stroke="#1c1c1c" stroke-width="1.5" />
<line x1="493.40" y1="535.11" x2="489.40" y2="535.11" stroke="#1c1c1c" stroke-width="1.5" />
<line x1="493.40" y1="506.85" x2="489.40" y2="506.85" stroke="#1c1c1c" stroke-width="1.5" />
<line x1="493.40" y1="478.59" x2="489.40" y2="478.59" stroke="#1c1c1c" stroke-width="1.5" />
<line x1="493.40" y1="450.32" x2="489.40" y2="450.32" stroke="#1c1c1c" stroke-width="1.5" />
<line x1="493.40" y1="422.06" x2="489.40" y2="422.06" stroke="#1c1c1c" stroke-width="1.5" />
<line x1="493.40" y1="393.80" x2="489.40" y2="393.80" stroke="#1c1c1c" stroke-width="1.5" />
<line x1="493.40" y1="365.53" x2="489.40" y2="365.53" stroke="#1c1c1c" stroke-width="1.5" />
<line x1="493.40" y1="662.30" x2="491.40" y2="662.30" stroke="#1c1c1c" stroke-width="1.5" />
<line x1="493.40" y1="634.04" x2="491.40" y2="634.04" stroke="#1c1c1c" stroke-width="1.5" />
<line x1="493.40" y1="605.77" x2="491.40" y2="605.77" stroke="#1c1c1c" stroke-width="1.5" />
<line x1="493.40" y1="577.51" x2="491.40" y2="577.51" stroke="#1c1c1c" stroke-width="1.5" />
<line x1="493.40" y1="549.25" x2="491.40" y2="549.25" stroke="#1c1c1c" stroke-width="1.5" />
<line x1="493.40" y1="520.98" x2="491.40" y2="520.98" stroke="#1c1c1c" stroke-width="1.5" />
<line x1="493.40" y1="492.72" x2="491.40" y2="492.72" stroke="#1c1c1c" stroke-width="1.5" />
<line x1="493.40" y1="464.45" x2="491.40" y2="464.45" stroke="#1c1c1c" stroke-width="1.5" />
<line x1="493.40" y1="436.19" x2="491.40" y2="436.19" stroke="#1c1c1c" stroke-width="1.5" />
<line x1="493.40" y1="407.93" x2="491.40" y2="407.93" stroke="#1c1c1c" stroke-width="1.5" />
<line x1="493.40" y1="379.66" x2="491.40" y2="379.66" stroke="#1c1c1c" stroke-width="1.5" />
<line x1="546.90" y1="349.80" x2="546.90" y2="353.80" stroke="#1c1c1c" stroke-width="1.5" />
<line x1="611.96" y1="349.80" x2="611.96" y2="353.80" stroke="#1c1c1c" stroke-width="1.5" />
<line x1="677.02" y1="349.80" x2="677.02" y2="353.80" stroke="#1c1c1c" stroke-width="1.5" />
<line x1="742.08" y1="349.80" x2="742.08" y2="353.80" stroke="#1c1c1c" stroke-width="1.5" />
<line x1="807.15" y1="349.80" x2="807.15" y2="353.80" stroke="#1c1c1c" stroke-width="1.5" />
<line x1="872.21" y1="349.80" x2="872.21" y2="353.80" stroke="#1c1c1c" stroke-width="1.5" />
<line x1="937.27" y1="349.80" x2="937.27" y2="353.80" stroke="#1c1c1c" stroke-width="1.5" />
<line x1="579.43" y1="349.80" x2="579.43" y2="351.80" stroke="#1c1c1c" stroke-width="1.5" />
<line x1="644.49" y1="349.80" x2="644.49" y2="351.80" stroke="#1c1c1c" stroke-width="1.5" />
<line x1="709.55" y1="349.80" x2="709.55" y2="351.80" stroke="#1c1c1c" stroke-width="1.5" />
<line x1="774.62" y1="349.80" x2="774.62" y2="351.80" stroke="#1c1c1c" stroke-width="1.5" />
<line x1="839.68" y1="349.80" x2="839.68" y2="351.80" stroke="#1c1c1c" stroke-width="1.5" />
<line x1="904.74" y1="349.80" x2="904.74" y2="351.80" stroke="#1c1c1c" stroke-width="1.5" />
<line x1="969.80" y1="349.80" x2="969.80" y2="351.80" stroke="#1c1c1c" stroke-width="1.5" />
<line x1="969.80" y1="647.05" x2="965.80" y2="647.05" stroke="#1c1c1c" stroke-width="1.5" />
<line x1="969.80" y1="618.74" x2="965.80" y2="618.74" stroke="#1c1c1c" stroke-width="1.5" />
<line x1="969.80" y1="590.43" x2="965.80" y2="590.43" stroke="#1c1c1c" stroke-width="1.5" />
<line x1="969.80" y1="562.12" x2="965.80" y2="562.12" stroke="#1c1c1c" stroke-width="1.5" />
<line x1="969.80" y1="533.81" x2="965.80" y2="533.81" stroke="#1c1c1c" stroke-width="1.5" />
<line x1="969.80" y1="505.50" x2="965.80" y2="505.50" stroke="#1c1c1c" stroke-width="1.5" />
<line x1="969.80" y1="477.19" x2="965.80" y2="477.19" stroke="#1c1c1c" stroke-width="1.5" />
<line x1="969.80" y1="448.88" x2="965.80" y2="448.88" stroke="#1c1c1c" stroke-width="1.5" />
<line x1="969.80" y1="420.57" x2="965.80" y2="420.57" stroke="#1c1c1c" stroke-width="1.5" />
<line x1="969.80" y1="392.26" x2="965.80" y2="392.26" stroke="#1c1c1c" stroke-width="1.5" />
<line x1="969.80" y1="363.95" x2="965.80" y2="363.95" stroke="#1c1c1c" stroke-width="1.5" />
<line x1="969.80" y1="661.20" x2="967.80" y2="661.20" stroke="#1c1c1c" stroke-width="1.5" />
<line x1="969.80" y1="632.89" x2="967.80" y2="632.89" stroke="#1c1c1c" stroke-width="1.5" />
<line x1="969.80" y1="604.58" x2="967.80" y2="604.58" stroke="#1c1c1c" stroke-width="1.5" />
<line x1="969.80" y1="576.27" x2="967.80" y2="576.27" stroke="#1c1c1c" stroke-width="1.5" />
<line x1="969.80" y1="547.96" x2="967.80" y2="547.96" stroke="#1c1c1c" stroke-width="1.5" />
<line x1="969.80" y1="519.65" x2="967.80" y2="519.65" stroke="#1c1c1c" stroke-width="1.5" />
<line x1="969.80" y1="491.35" x2="967.80" y2="491.35" stroke="#1c1c1c" stroke-width="1.5" />
<line x1="969.80" y1="463.04" x2="967.80" y2="463.04" stroke="#1c1c1c" stroke-width="1.5" />
<line x1="969.80" y1="434.73" x2="967.80" y2="434.73" stroke="#1c1c1c" stroke-width="1.5" />
<line x1="969.80" y1="406.42" x2="967.80" y2="406.42" stroke="#1c1c1c" stroke-width="1.5" />
<line x1="969.80" y1="378.11" x2="967.80" y2="378.11" stroke="#1c1c1c" stroke-width="1.5" />
<line x1="546.90" y1="349.80" x2="969.80" y2="349.80" stroke="#1c1c1c" stroke-width="1.6" />
<line x1="969.80" y1="349.80" x2="969.80" y2="661.20" stroke="#1c1c1c" stroke-width="1.6" />
<g fill="none" stroke-linecap="round" stroke-linejoin="round"><g stroke="#9a9a9a" stroke-width="3.0" opacity="0.8"><path d="M5,2 L2,8 L10,7" transform="translate(881.0 647)" />
<path d="M9,5 L11,8" transform="translate(881.0 647)" />
<path d="M3,23 L3,10 L10,10 L10,22 L8.5,23" transform="translate(881.0 647)" />
<path d="M3,14 L10,14" transform="translate(881.0 647)" />
<path d="M3,18 L10,18" transform="translate(881.0 647)" />
<path d="M14,2 L14,9 L21.5,9" transform="translate(881.0 647)" />
<path d="M20.5,3.5 L15,6" transform="translate(881.0 647)" />
<path d="M14,12 L14,21 L22,21" transform="translate(881.0 647)" />
<path d="M20.5,13.5 L15,16" transform="translate(881.0 647)" />
<path d="M2,4 L4,6" transform="translate(905.2 647)" />
<path d="M1.5,10 L3.5,12" transform="translate(905.2 647)" />
<path d="M1.5,22 L4.5,15" transform="translate(905.2 647)" />
<path d="M7,3 L23,3" transform="translate(905.2 647)" />
<path d="M8,3 L8,14 L5,23" transform="translate(905.2 647)" />
<path d="M15,3 L14,6" transform="translate(905.2 647)" />
<path d="M11,7 L20,7 L20,14 L11,14 Z" transform="translate(905.2 647)" />
<path d="M11,10.5 L20,10.5" transform="translate(905.2 647)" />
<path d="M15.5,14 L15.5,23 L14,23" transform="translate(905.2 647)" />
<path d="M12.5,17 L10.5,21" transform="translate(905.2 647)" />
<path d="M18.5,17 L21.5,21" transform="translate(905.2 647)" />
<path d="M6,1 L7.5,4" transform="translate(929.4 647)" />
<path d="M12,0.5 L12,3.5" transform="translate(929.4 647)" />
<path d="M18,1 L16.5,4" transform="translate(929.4 647)" />
<path d="M3,8 L3,5.5 L21,5.5 L21,8" transform="translate(929.4 647)" />
<path d="M7,9 L17,9 L12.5,12.5" transform="translate(929.4 647)" />
<path d="M12.5,12.5 L12.5,22 L10,22" transform="translate(929.4 647)" />
<path d="M3,15.5 L21.5,15.5" transform="translate(929.4 647)" />
<path d="M12,2 L12,9 L3,22.5" transform="translate(953.6 647)" />
<path d="M12,9 L22,22.5" transform="translate(953.6 647)" /></g><g stroke="#fff" stroke-width="1.3" opacity="0.9"><path d="M5,2 L2,8 L10,7" transform="translate(881.0 647)" />
<path d="M9,5 L11,8" transform="translate(881.0 647)" />
<path d="M3,23 L3,10 L10,10 L10,22 L8.5,23" transform="translate(881.0 647)" />
<path d="M3,14 L10,14" transform="translate(881.0 647)" />
<path d="M3,18 L10,18" transform="translate(881.0 647)" />
<path d="M14,2 L14,9 L21.5,9" transform="translate(881.0 647)" />
<path d="M20.5,3.5 L15,6" transform="translate(881.0 647)" />
<path d="M14,12 L14,21 L22,21" transform="translate(881.0 647)" />
<path d="M20.5,13.5 L15,16" transform="translate(881.0 647)" />
<path d="M2,4 L4,6" transform="translate(905.2 647)" />
<path d="M1.5,10 L3.5,12" transform="translate(905.2 647)" />
<path d="M1.5,22 L4.5,15" transform="translate(905.2 647)" />
<path d="M7,3 L23,3" transform="translate(905.2 647)" />
<path d="M8,3 L8,14 L5,23" transform="translate(905.2 647)" />
<path d="M15,3 L14,6" transform="translate(905.2 647)" />
<path d="M11,7 L20,7 L20,14 L11,14 Z" transform="translate(905.2 647)" />
<path d="M11,10.5 L20,10.5" transform="translate(905.2 647)" />
<path d="M15.5,14 L15.5,23 L14,23" transform="translate(905.2 647)" />
<path d="M12.5,17 L10.5,21" transform="translate(905.2 647)" />
<path d="M18.5,17 L21.5,21" transform="translate(905.2 647)" />
<path d="M6,1 L7.5,4" transform="translate(929.4 647)" />
<path d="M12,0.5 L12,3.5" transform="translate(929.4 647)" />
<path d="M18,1 L16.5,4" transform="translate(929.4 647)" />
<path d="M3,8 L3,5.5 L21,5.5 L21,8" transform="translate(929.4 647)" />
<path d="M7,9 L17,9 L12.5,12.5" transform="translate(929.4 647)" />
<path d="M12.5,12.5 L12.5,22 L10,22" transform="translate(929.4 647)" />
<path d="M3,15.5 L21.5,15.5" transform="translate(929.4 647)" />
<path d="M12,2 L12,9 L3,22.5" transform="translate(953.6 647)" />
<path d="M12,9 L22,22.5" transform="translate(953.6 647)" /></g></g>
<g stroke="#9a9a9a" stroke-width="1.1" fill="#fff" opacity="0.9">
<path d="M836,663 L834,668 L840,665 Z"/>
<ellipse cx="845.5" cy="654.5" rx="13" ry="10.5"/>
<path d="M866,670 L869,674 L861,671 Z"/>
<ellipse cx="859" cy="662" rx="11.5" ry="9.5"/>
</g>
<g fill="#9a9a9a"><circle cx="840.8" cy="648.7" r="1.3"/><circle cx="851.9" cy="648.7" r="1.3"/><circle cx="855" cy="659" r="1.2"/><circle cx="863.8" cy="659" r="1.2"/></g>
</svg></body></html>
